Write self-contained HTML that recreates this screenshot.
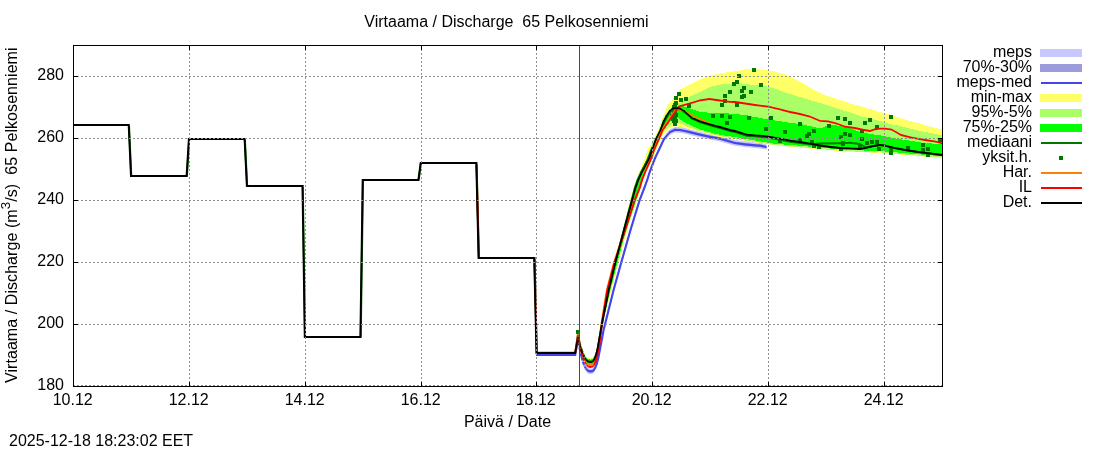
<!DOCTYPE html>
<html lang="fi">
<head>
<meta charset="utf-8">
<title>Virtaama / Discharge 65 Pelkosenniemi</title>
<style>
html,body{margin:0;padding:0;background:#fff;}
body{width:1100px;height:450px;overflow:hidden;position:relative;font-family:"Liberation Sans",sans-serif;}
</style>
</head>
<body>
<svg width="1100" height="450" viewBox="0 0 1100 450" style="position:absolute;left:0;top:0;display:block" font-family="'Liberation Sans', sans-serif" font-size="16" fill="#000">
<rect width="1100" height="450" fill="#fff"/>
<defs><clipPath id="pc"><rect x="73" y="45" width="870" height="342"/></clipPath></defs>
<g clip-path="url(#pc)" fill="none" stroke-linejoin="round" stroke-linecap="butt">
<path d="M578.0,336.0 L579.2,343.2 L580.5,349.8 L582.8,358.1 L584.3,362.7 L586.3,366.2 L588.2,367.9 L590.4,368.4 L592.4,368.1 L593.8,367.1 L595.1,364.9 L596.8,360.8 L598.4,354.7 L600.1,345.6 L603.6,327.0 L613.6,287.0 L621.4,259.0 L630.5,227.0 L639.5,197.4 L644.3,185.0 L647.2,177.0 L649.7,169.0 L652.4,162.0 L655.1,155.0 L658.9,147.0 L664.0,136.0 L670.0,129.0 L675.0,126.8 L680.0,127.0 L685.0,128.0 L690.0,129.2 L700.0,131.7 L710.0,133.8 L720.0,135.7 L735.0,140.0 L745.0,141.3 L755.0,142.3 L760.0,142.6 L766.5,144.0 L766.5,149.8 L760.0,148.4 L755.0,148.1 L745.0,147.1 L735.0,145.8 L720.0,141.5 L710.0,139.6 L700.0,137.5 L690.0,135.0 L685.0,133.8 L680.0,132.8 L675.0,132.6 L670.0,134.8 L664.0,141.8 L658.9,152.8 L655.1,160.8 L652.4,167.8 L649.7,174.8 L647.2,182.8 L644.3,190.8 L639.5,203.2 L630.5,232.8 L621.4,264.8 L613.6,292.8 L603.6,332.8 L600.1,351.4 L598.4,360.5 L596.8,366.6 L595.1,370.7 L593.8,372.9 L592.4,373.9 L590.4,374.2 L588.2,373.7 L586.3,372.0 L584.3,368.5 L582.8,363.9 L580.5,355.6 L579.2,349.0 L578.0,341.8Z" fill="#c8c8ff" stroke="none"/>
<path d="M578.0,337.7 L579.2,344.9 L580.5,351.5 L582.8,359.8 L584.3,364.4 L586.3,367.9 L588.2,369.6 L590.4,370.1 L592.4,369.8 L593.8,368.8 L595.1,366.6 L596.8,362.5 L598.4,356.4 L600.1,347.3 L603.6,328.7 L613.6,288.7 L621.4,260.7 L630.5,228.7 L639.5,199.1 L644.3,186.7 L647.2,178.7 L649.7,170.7 L652.4,163.7 L655.1,156.7 L658.9,148.7 L664.0,137.7 L670.0,130.7 L675.0,128.5 L680.0,128.7 L685.0,129.7 L690.0,130.9 L700.0,133.4 L710.0,135.5 L720.0,137.4 L735.0,141.7 L745.0,143.0 L755.0,144.0 L760.0,144.3 L766.5,145.7 L766.5,148.3 L760.0,146.9 L755.0,146.6 L745.0,145.6 L735.0,144.3 L720.0,140.0 L710.0,138.1 L700.0,136.0 L690.0,133.5 L685.0,132.3 L680.0,131.3 L675.0,131.1 L670.0,133.3 L664.0,140.3 L658.9,151.3 L655.1,159.3 L652.4,166.3 L649.7,173.3 L647.2,181.3 L644.3,189.3 L639.5,201.7 L630.5,231.3 L621.4,263.3 L613.6,291.3 L603.6,331.3 L600.1,349.9 L598.4,359.0 L596.8,365.1 L595.1,369.2 L593.8,371.4 L592.4,372.4 L590.4,372.7 L588.2,372.2 L586.3,370.5 L584.3,367.0 L582.8,362.4 L580.5,354.1 L579.2,347.5 L578.0,340.3Z" fill="#9c9cdc" stroke="none"/>
<path d="M536.00,353.90L575.20,353.90L575.20,356.10L536.00,356.10ZM574.10,355.00L576.90,339.00L579.10,339.00L576.30,355.00ZM576.90,339.00L578.10,346.24L580.30,346.24L579.10,339.00ZM578.10,346.24L579.40,352.83L581.60,352.83L580.30,346.24ZM579.40,352.83L581.70,361.13L583.90,361.13L581.60,352.83ZM581.70,361.13L583.20,365.74L585.40,365.74L583.90,361.13ZM583.20,365.74L585.20,369.16L587.40,369.16L585.40,365.74ZM586.30,368.06L588.20,369.77L588.20,371.97L586.30,370.26ZM588.20,369.77L590.40,370.30L590.40,372.50L588.20,371.97ZM590.40,370.30L592.39,370.00L592.39,372.20L590.40,372.50ZM592.39,370.00L593.82,369.00L593.82,371.20L592.39,372.20ZM592.72,370.10L594.05,367.90L596.25,367.90L594.92,370.10ZM594.05,367.90L595.70,363.80L597.90,363.80L596.25,367.90ZM595.70,363.80L597.25,357.70L599.45,357.70L597.90,363.80ZM597.25,357.70L599.02,348.60L601.22,348.60L599.45,357.70ZM599.02,348.60L602.50,330.00L604.70,330.00L601.22,348.60ZM602.50,330.00L612.50,290.00L614.70,290.00L604.70,330.00ZM612.50,290.00L620.30,262.00L622.50,262.00L614.70,290.00ZM620.30,262.00L629.40,230.00L631.60,230.00L622.50,262.00ZM629.40,230.00L638.40,200.40L640.60,200.40L631.60,230.00ZM638.40,200.40L643.20,188.00L645.40,188.00L640.60,200.40ZM643.20,188.00L646.10,180.00L648.30,180.00L645.40,188.00ZM646.10,180.00L648.60,172.00L650.80,172.00L648.30,180.00ZM648.60,172.00L651.30,165.00L653.50,165.00L650.80,172.00ZM651.30,165.00L654.00,158.00L656.20,158.00L653.50,165.00ZM654.00,158.00L657.80,150.00L660.00,150.00L656.20,158.00ZM657.80,150.00L662.90,139.00L665.10,139.00L660.00,150.00ZM662.90,139.00L668.90,132.00L671.10,132.00L665.10,139.00ZM670.00,130.90L675.00,128.70L675.00,130.90L670.00,133.10ZM675.00,128.70L680.00,128.90L680.00,131.10L675.00,130.90ZM680.00,128.90L685.00,129.90L685.00,132.10L680.00,131.10ZM685.00,129.90L690.00,131.10L690.00,133.30L685.00,132.10ZM690.00,131.10L700.00,133.60L700.00,135.80L690.00,133.30ZM700.00,133.60L710.00,135.70L710.00,137.90L700.00,135.80ZM710.00,135.70L720.00,137.60L720.00,139.80L710.00,137.90ZM720.00,137.60L735.00,141.90L735.00,144.10L720.00,139.80ZM735.00,141.90L745.00,143.20L745.00,145.40L735.00,144.10ZM745.00,143.20L755.00,144.20L755.00,146.40L745.00,145.40ZM755.00,144.20L760.00,144.50L760.00,146.70L755.00,146.40ZM760.00,144.50L766.50,145.90L766.50,148.10L760.00,146.70ZM574.27,354.06h1.87v1.87h-1.87ZM577.07,338.06h1.87v1.87h-1.87ZM578.27,345.31h1.87v1.87h-1.87ZM579.57,351.89h1.87v1.87h-1.87ZM581.87,360.19h1.87v1.87h-1.87ZM583.37,364.80h1.87v1.87h-1.87ZM585.37,368.23h1.87v1.87h-1.87ZM587.27,369.94h1.87v1.87h-1.87ZM589.47,370.46h1.87v1.87h-1.87ZM591.45,370.16h1.87v1.87h-1.87ZM592.89,369.16h1.87v1.87h-1.87ZM594.21,366.96h1.87v1.87h-1.87ZM595.87,362.86h1.87v1.87h-1.87ZM597.42,356.76h1.87v1.87h-1.87ZM599.18,347.66h1.87v1.87h-1.87ZM602.67,329.06h1.87v1.87h-1.87ZM612.67,289.06h1.87v1.87h-1.87ZM620.47,261.06h1.87v1.87h-1.87ZM629.57,229.06h1.87v1.87h-1.87ZM638.57,199.47h1.87v1.87h-1.87ZM643.37,187.06h1.87v1.87h-1.87ZM646.27,179.06h1.87v1.87h-1.87ZM648.77,171.06h1.87v1.87h-1.87ZM651.47,164.06h1.87v1.87h-1.87ZM654.17,157.06h1.87v1.87h-1.87ZM657.97,149.06h1.87v1.87h-1.87ZM663.07,138.06h1.87v1.87h-1.87ZM669.07,131.06h1.87v1.87h-1.87ZM674.07,128.87h1.87v1.87h-1.87ZM679.07,129.06h1.87v1.87h-1.87ZM684.07,130.06h1.87v1.87h-1.87ZM689.07,131.26h1.87v1.87h-1.87ZM699.07,133.76h1.87v1.87h-1.87ZM709.07,135.87h1.87v1.87h-1.87ZM719.07,137.76h1.87v1.87h-1.87ZM734.07,142.06h1.87v1.87h-1.87ZM744.07,143.37h1.87v1.87h-1.87ZM754.07,144.37h1.87v1.87h-1.87ZM759.07,144.66h1.87v1.87h-1.87Z" fill="#4444ee" stroke="none"/>
<path d="M536.0,351.0 L536.7,351.0 L537.4,351.0 L538.0,351.0 L538.7,351.0 L539.4,351.0 L540.1,351.0 L540.8,351.0 L541.4,351.0 L542.1,351.0 L542.8,351.0 L543.5,351.0 L544.1,351.0 L544.8,351.0 L545.5,351.0 L546.2,351.0 L546.9,351.0 L547.5,351.0 L548.2,351.0 L548.9,351.0 L549.6,351.0 L550.3,351.0 L550.9,351.0 L551.6,351.0 L552.3,351.0 L553.0,351.0 L553.6,351.0 L554.3,351.0 L555.0,351.0 L555.7,351.0 L556.4,351.0 L557.0,351.0 L557.7,351.0 L558.4,351.0 L559.1,351.0 L559.8,351.0 L560.4,351.0 L561.1,351.0 L561.8,351.0 L562.5,351.0 L563.1,351.0 L563.8,351.0 L564.5,351.0 L565.2,351.0 L565.9,351.0 L566.5,351.0 L567.2,351.0 L567.9,351.0 L568.6,351.0 L569.3,351.0 L569.9,351.0 L570.6,351.0 L571.3,351.0 L572.0,351.0 L572.6,351.0 L573.3,351.0 L574.0,351.0 L574.7,351.0 L575.4,350.0 L576.0,345.8 L576.7,341.5 L577.4,337.3 L578.1,333.8 L578.8,337.0 L579.4,339.9 L580.1,342.5 L580.8,344.8 L581.5,346.7 L582.1,348.6 L582.8,350.4 L583.5,352.0 L584.2,353.6 L584.9,354.6 L585.5,355.5 L586.2,356.4 L586.9,356.9 L587.6,357.4 L588.3,357.8 L588.9,357.9 L589.6,358.1 L590.3,358.2 L591.0,358.1 L591.6,358.0 L592.3,357.7 L593.0,357.2 L593.7,356.2 L594.4,354.9 L595.0,353.1 L595.7,351.1 L596.4,348.3 L597.1,345.2 L597.8,341.3 L598.4,337.2 L599.1,333.4 L599.8,329.8 L600.5,326.2 L601.1,322.6 L601.8,319.0 L602.5,315.6 L603.2,312.6 L603.9,309.5 L604.5,306.5 L605.2,303.4 L605.9,300.4 L606.6,297.3 L607.3,294.2 L607.9,291.2 L608.6,288.2 L609.3,285.2 L610.0,282.2 L610.6,279.2 L611.3,276.2 L612.0,273.3 L612.7,270.3 L613.4,267.3 L614.0,264.3 L614.7,261.4 L615.4,258.8 L616.1,256.2 L616.8,253.5 L617.4,250.9 L618.1,248.2 L618.8,245.6 L619.5,243.0 L620.2,240.3 L620.8,237.7 L621.5,235.0 L622.2,232.4 L622.9,229.7 L623.5,226.9 L624.2,224.1 L624.9,221.2 L625.6,218.4 L626.3,215.6 L626.9,212.8 L627.6,209.9 L628.3,207.1 L629.0,204.3 L629.7,201.4 L630.3,199.0 L631.0,196.7 L631.7,194.4 L632.4,192.1 L633.0,189.9 L633.7,187.6 L634.4,185.5 L635.1,183.4 L635.8,181.4 L636.4,179.4 L637.1,177.6 L637.8,175.7 L638.5,173.9 L639.2,172.1 L639.8,170.5 L640.5,168.9 L641.2,167.4 L641.9,165.8 L642.5,164.1 L643.2,162.3 L643.9,160.6 L644.6,158.8 L645.3,156.9 L645.9,154.8 L646.6,152.7 L647.3,150.6 L648.0,149.1 L648.7,147.9 L649.3,146.6 L650.0,145.4 L650.7,144.2 L651.4,142.9 L652.0,141.7 L652.7,140.4 L653.4,139.2 L654.1,137.8 L654.8,136.5 L655.4,135.1 L656.1,133.8 L656.8,132.4 L657.5,131.1 L658.2,129.6 L658.8,127.6 L659.5,125.7 L660.2,123.7 L660.9,121.8 L661.5,120.1 L662.2,118.4 L662.9,116.7 L663.6,115.0 L664.3,113.4 L664.9,111.8 L665.6,110.2 L666.3,108.6 L667.0,107.0 L667.7,105.4 L668.3,104.2 L669.0,103.4 L669.7,102.7 L670.4,101.9 L671.0,101.1 L671.7,100.3 L672.4,99.6 L673.1,98.8 L673.8,98.0 L674.4,97.2 L675.1,96.4 L675.8,95.5 L676.5,94.5 L677.2,93.5 L677.8,92.6 L678.5,91.6 L679.2,90.6 L679.9,89.7 L680.5,89.2 L681.2,88.9 L681.9,88.5 L682.6,88.2 L683.3,87.8 L683.9,87.5 L684.6,87.1 L685.3,86.8 L686.0,86.5 L686.7,86.1 L687.3,85.8 L688.0,85.4 L688.7,85.1 L689.4,84.7 L690.0,84.4 L690.7,84.0 L691.4,83.7 L692.1,83.4 L692.8,83.0 L693.4,82.7 L694.1,82.3 L694.8,82.0 L695.5,81.7 L696.2,81.3 L696.8,81.0 L697.5,80.6 L698.2,80.3 L698.9,80.0 L699.6,79.6 L700.2,79.3 L700.9,79.1 L701.6,78.8 L702.3,78.5 L702.9,78.3 L703.6,78.0 L704.3,77.8 L705.0,77.5 L705.7,77.3 L706.3,77.0 L707.0,76.7 L707.7,76.5 L708.4,76.2 L709.1,76.0 L709.7,75.7 L710.4,75.5 L711.1,75.4 L711.8,75.2 L712.4,75.1 L713.1,74.9 L713.8,74.8 L714.5,74.7 L715.2,74.5 L715.8,74.4 L716.5,74.2 L717.2,74.1 L717.9,73.9 L718.6,73.8 L719.2,73.7 L719.9,73.5 L720.6,73.4 L721.3,73.3 L721.9,73.2 L722.6,73.1 L723.3,72.9 L724.0,72.8 L724.7,72.7 L725.3,72.6 L726.0,72.5 L726.7,72.4 L727.4,72.2 L728.1,72.1 L728.7,72.0 L729.4,71.9 L730.1,71.8 L730.8,71.7 L731.4,71.6 L732.1,71.5 L732.8,71.5 L733.5,71.4 L734.2,71.3 L734.8,71.2 L735.5,71.1 L736.2,71.1 L736.9,71.0 L737.6,70.9 L738.2,70.8 L738.9,70.7 L739.6,70.6 L740.3,70.5 L740.9,70.3 L741.6,70.1 L742.3,70.0 L743.0,69.8 L743.7,69.6 L744.3,69.4 L745.0,69.2 L745.7,69.2 L746.4,69.2 L747.1,69.2 L747.7,69.1 L748.4,69.1 L749.1,69.1 L749.8,69.1 L750.4,69.1 L751.1,69.1 L751.8,69.1 L752.5,69.1 L753.2,69.0 L753.8,69.0 L754.5,69.0 L755.2,69.0 L755.9,69.1 L756.6,69.2 L757.2,69.2 L757.9,69.3 L758.6,69.4 L759.3,69.4 L759.9,69.5 L760.6,69.6 L761.3,69.6 L762.0,69.7 L762.7,69.8 L763.3,69.8 L764.0,69.9 L764.7,70.0 L765.4,70.1 L766.1,70.2 L766.7,70.3 L767.4,70.4 L768.1,70.5 L768.8,70.6 L769.4,70.7 L770.1,70.8 L770.8,70.9 L771.5,71.0 L772.2,71.1 L772.8,71.2 L773.5,71.3 L774.2,71.4 L774.9,71.5 L775.6,71.7 L776.2,71.9 L776.9,72.1 L777.6,72.3 L778.3,72.5 L778.9,72.7 L779.6,72.9 L780.3,73.1 L781.0,73.3 L781.7,73.5 L782.3,73.7 L783.0,73.9 L783.7,74.1 L784.4,74.3 L785.1,74.5 L785.7,74.8 L786.4,75.1 L787.1,75.4 L787.8,75.7 L788.5,76.1 L789.1,76.4 L789.8,76.7 L790.5,77.0 L791.2,77.3 L791.8,77.6 L792.5,77.9 L793.2,78.2 L793.9,78.5 L794.6,78.8 L795.2,79.1 L795.9,79.5 L796.6,79.9 L797.3,80.3 L798.0,80.6 L798.6,81.0 L799.3,81.4 L800.0,81.7 L800.7,82.1 L801.3,82.5 L802.0,82.9 L802.7,83.2 L803.4,83.6 L804.1,84.0 L804.7,84.4 L805.4,84.7 L806.1,85.2 L806.8,85.6 L807.5,86.0 L808.1,86.4 L808.8,86.8 L809.5,87.2 L810.2,87.6 L810.8,88.0 L811.5,88.4 L812.2,88.8 L812.9,89.2 L813.6,89.6 L814.2,90.0 L814.9,90.5 L815.6,90.8 L816.3,91.1 L817.0,91.4 L817.6,91.7 L818.3,92.0 L819.0,92.3 L819.7,92.6 L820.3,92.9 L821.0,93.2 L821.7,93.5 L822.4,93.8 L823.1,94.1 L823.7,94.4 L824.4,94.7 L825.1,95.0 L825.8,95.3 L826.5,95.5 L827.1,95.7 L827.8,96.0 L828.5,96.2 L829.2,96.5 L829.8,96.7 L830.5,96.9 L831.2,97.2 L831.9,97.4 L832.6,97.6 L833.2,97.9 L833.9,98.1 L834.6,98.4 L835.3,98.6 L836.0,98.8 L836.6,99.0 L837.3,99.2 L838.0,99.4 L838.7,99.6 L839.3,99.8 L840.0,100.0 L840.7,100.2 L841.4,100.4 L842.1,100.6 L842.7,100.8 L843.4,101.0 L844.1,101.2 L844.8,101.4 L845.5,101.7 L846.1,102.0 L846.8,102.2 L847.5,102.5 L848.2,102.8 L848.8,103.0 L849.5,103.3 L850.2,103.6 L850.9,103.7 L851.6,103.9 L852.2,104.1 L852.9,104.2 L853.6,104.4 L854.3,104.6 L855.0,104.7 L855.6,104.9 L856.3,105.1 L857.0,105.2 L857.7,105.4 L858.3,105.6 L859.0,105.8 L859.7,105.9 L860.4,106.1 L861.1,106.3 L861.7,106.5 L862.4,106.7 L863.1,106.9 L863.8,107.1 L864.5,107.3 L865.1,107.5 L865.8,107.7 L866.5,107.9 L867.2,108.2 L867.9,108.4 L868.5,108.6 L869.2,108.8 L869.9,109.0 L870.6,109.2 L871.2,109.4 L871.9,109.6 L872.6,109.8 L873.3,110.0 L874.0,110.2 L874.6,110.4 L875.3,110.6 L876.0,110.8 L876.7,111.0 L877.4,111.2 L878.0,111.4 L878.7,111.6 L879.4,111.8 L880.1,112.0 L880.7,112.2 L881.4,112.4 L882.1,112.5 L882.8,112.7 L883.5,112.9 L884.1,113.0 L884.8,113.2 L885.5,113.4 L886.2,113.5 L886.9,113.7 L887.5,113.9 L888.2,114.1 L888.9,114.2 L889.6,114.4 L890.2,114.6 L890.9,114.8 L891.6,115.1 L892.3,115.3 L893.0,115.5 L893.6,115.8 L894.3,116.0 L895.0,116.2 L895.7,116.5 L896.4,116.7 L897.0,117.0 L897.7,117.2 L898.4,117.4 L899.1,117.7 L899.7,117.9 L900.4,118.1 L901.1,118.3 L901.8,118.5 L902.5,118.7 L903.1,118.9 L903.8,119.1 L904.5,119.3 L905.2,119.6 L905.9,119.8 L906.5,120.0 L907.2,120.2 L907.9,120.4 L908.6,120.6 L909.2,120.8 L909.9,121.0 L910.6,121.2 L911.3,121.3 L912.0,121.5 L912.6,121.7 L913.3,121.8 L914.0,122.0 L914.7,122.2 L915.4,122.3 L916.0,122.5 L916.7,122.7 L917.4,122.8 L918.1,123.0 L918.7,123.2 L919.4,123.4 L920.1,123.5 L920.8,123.7 L921.5,123.9 L922.1,124.1 L922.8,124.3 L923.5,124.5 L924.2,124.8 L924.9,125.0 L925.5,125.2 L926.2,125.4 L926.9,125.6 L927.6,125.8 L928.2,126.0 L928.9,126.2 L929.6,126.4 L930.3,126.6 L931.0,126.7 L931.6,126.9 L932.3,127.1 L933.0,127.2 L933.7,127.4 L934.4,127.5 L935.0,127.7 L935.7,127.9 L936.4,128.0 L937.1,128.2 L937.7,128.4 L938.4,128.5 L939.1,128.7 L939.8,128.8 L940.5,129.0 L941.1,129.2 L941.8,129.3 L942.5,129.5 L942.5,158.1 L941.8,158.0 L941.1,158.0 L940.5,157.9 L939.8,157.9 L939.1,157.8 L938.4,157.8 L937.7,157.7 L937.1,157.6 L936.4,157.6 L935.7,157.5 L935.0,157.5 L934.4,157.4 L933.7,157.3 L933.0,157.3 L932.3,157.2 L931.6,157.2 L931.0,157.1 L930.3,157.1 L929.6,157.0 L928.9,156.9 L928.2,156.9 L927.6,156.8 L926.9,156.8 L926.2,156.7 L925.5,156.7 L924.9,156.6 L924.2,156.5 L923.5,156.5 L922.8,156.4 L922.1,156.4 L921.5,156.3 L920.8,156.2 L920.1,156.2 L919.4,156.1 L918.7,156.1 L918.1,156.0 L917.4,156.0 L916.7,155.9 L916.0,155.8 L915.4,155.8 L914.7,155.7 L914.0,155.7 L913.3,155.6 L912.6,155.6 L912.0,155.5 L911.3,155.4 L910.6,155.4 L909.9,155.3 L909.2,155.3 L908.6,155.2 L907.9,155.2 L907.2,155.1 L906.5,155.0 L905.9,155.0 L905.2,154.9 L904.5,154.9 L903.8,154.8 L903.1,154.8 L902.5,154.7 L901.8,154.6 L901.1,154.6 L900.4,154.5 L899.7,154.5 L899.1,154.4 L898.4,154.4 L897.7,154.3 L897.0,154.2 L896.4,154.2 L895.7,154.1 L895.0,154.1 L894.3,154.0 L893.6,154.0 L893.0,153.9 L892.3,153.8 L891.6,153.8 L890.9,153.7 L890.2,153.7 L889.6,153.6 L888.9,153.5 L888.2,153.5 L887.5,153.4 L886.9,153.4 L886.2,153.3 L885.5,153.3 L884.8,153.2 L884.1,153.1 L883.5,153.1 L882.8,153.0 L882.1,153.0 L881.4,152.9 L880.7,152.9 L880.1,152.8 L879.4,152.8 L878.7,152.8 L878.0,152.7 L877.4,152.7 L876.7,152.7 L876.0,152.7 L875.3,152.6 L874.6,152.6 L874.0,152.6 L873.3,152.6 L872.6,152.6 L871.9,152.5 L871.2,152.5 L870.6,152.5 L869.9,152.5 L869.2,152.4 L868.5,152.4 L867.9,152.4 L867.2,152.4 L866.5,152.3 L865.8,152.3 L865.1,152.3 L864.5,152.3 L863.8,152.3 L863.1,152.2 L862.4,152.2 L861.7,152.2 L861.1,152.2 L860.4,152.1 L859.7,152.1 L859.0,152.1 L858.3,152.1 L857.7,152.1 L857.0,152.0 L856.3,152.0 L855.6,152.0 L855.0,152.0 L854.3,151.9 L853.6,151.9 L852.9,151.9 L852.2,151.9 L851.6,151.9 L850.9,151.8 L850.2,151.8 L849.5,151.8 L848.8,151.7 L848.2,151.7 L847.5,151.6 L846.8,151.6 L846.1,151.5 L845.5,151.5 L844.8,151.4 L844.1,151.3 L843.4,151.3 L842.7,151.2 L842.1,151.2 L841.4,151.1 L840.7,151.1 L840.0,151.0 L839.3,151.0 L838.7,150.9 L838.0,150.9 L837.3,150.8 L836.6,150.8 L836.0,150.7 L835.3,150.7 L834.6,150.6 L833.9,150.6 L833.2,150.5 L832.6,150.5 L831.9,150.4 L831.2,150.4 L830.5,150.3 L829.8,150.3 L829.2,150.2 L828.5,150.2 L827.8,150.1 L827.1,150.0 L826.5,150.0 L825.8,149.9 L825.1,149.9 L824.4,149.8 L823.7,149.8 L823.1,149.7 L822.4,149.7 L821.7,149.6 L821.0,149.6 L820.3,149.5 L819.7,149.5 L819.0,149.4 L818.3,149.3 L817.6,149.3 L817.0,149.2 L816.3,149.1 L815.6,149.1 L814.9,149.0 L814.2,148.9 L813.6,148.9 L812.9,148.8 L812.2,148.7 L811.5,148.7 L810.8,148.6 L810.2,148.5 L809.5,148.4 L808.8,148.4 L808.1,148.3 L807.5,148.2 L806.8,148.2 L806.1,148.1 L805.4,148.0 L804.7,148.0 L804.1,147.9 L803.4,147.8 L802.7,147.8 L802.0,147.7 L801.3,147.6 L800.7,147.6 L800.0,147.5 L799.3,147.4 L798.6,147.4 L798.0,147.3 L797.3,147.3 L796.6,147.2 L795.9,147.1 L795.2,147.1 L794.6,147.0 L793.9,147.0 L793.2,146.9 L792.5,146.8 L791.8,146.8 L791.2,146.7 L790.5,146.7 L789.8,146.6 L789.1,146.5 L788.5,146.5 L787.8,146.4 L787.1,146.4 L786.4,146.3 L785.7,146.2 L785.1,146.2 L784.4,146.1 L783.7,146.1 L783.0,146.0 L782.3,145.9 L781.7,145.9 L781.0,145.8 L780.3,145.8 L779.6,145.7 L778.9,145.6 L778.3,145.6 L777.6,145.5 L776.9,145.5 L776.2,145.4 L775.6,145.3 L774.9,145.3 L774.2,145.2 L773.5,145.1 L772.8,145.0 L772.2,144.9 L771.5,144.8 L770.8,144.7 L770.1,144.6 L769.4,144.5 L768.8,144.4 L768.1,144.3 L767.4,144.2 L766.7,144.1 L766.1,144.0 L765.4,143.9 L764.7,143.8 L764.0,143.7 L763.3,143.6 L762.7,143.5 L762.0,143.4 L761.3,143.3 L760.6,143.2 L759.9,143.1 L759.3,143.0 L758.6,142.9 L757.9,142.8 L757.2,142.7 L756.6,142.6 L755.9,142.5 L755.2,142.4 L754.5,142.3 L753.8,142.2 L753.2,142.1 L752.5,142.0 L751.8,141.9 L751.1,141.8 L750.4,141.6 L749.8,141.5 L749.1,141.4 L748.4,141.3 L747.7,141.2 L747.1,141.1 L746.4,141.0 L745.7,140.9 L745.0,140.8 L744.3,140.7 L743.7,140.6 L743.0,140.5 L742.3,140.4 L741.6,140.3 L740.9,140.2 L740.3,140.1 L739.6,140.0 L738.9,139.9 L738.2,139.8 L737.6,139.7 L736.9,139.6 L736.2,139.5 L735.5,139.4 L734.8,139.3 L734.2,139.2 L733.5,139.1 L732.8,139.0 L732.1,138.9 L731.4,138.8 L730.8,138.7 L730.1,138.6 L729.4,138.5 L728.7,138.4 L728.1,138.3 L727.4,138.2 L726.7,138.1 L726.0,138.0 L725.3,137.9 L724.7,137.8 L724.0,137.7 L723.3,137.6 L722.6,137.5 L721.9,137.4 L721.3,137.3 L720.6,137.2 L719.9,137.1 L719.2,136.9 L718.6,136.7 L717.9,136.6 L717.2,136.4 L716.5,136.2 L715.8,136.1 L715.2,135.9 L714.5,135.7 L713.8,135.6 L713.1,135.4 L712.4,135.2 L711.8,135.0 L711.1,134.9 L710.4,134.7 L709.7,134.5 L709.1,134.3 L708.4,134.1 L707.7,134.0 L707.0,133.8 L706.3,133.6 L705.7,133.4 L705.0,133.2 L704.3,133.0 L703.6,132.8 L702.9,132.6 L702.3,132.4 L701.6,132.2 L700.9,132.1 L700.2,131.9 L699.6,131.7 L698.9,131.5 L698.2,131.3 L697.5,131.1 L696.8,130.9 L696.2,130.8 L695.5,130.6 L694.8,130.4 L694.1,130.2 L693.4,130.0 L692.8,129.8 L692.1,129.7 L691.4,129.5 L690.7,129.3 L690.0,129.1 L689.4,129.0 L688.7,128.8 L688.0,128.7 L687.3,128.5 L686.7,128.4 L686.0,128.2 L685.3,128.1 L684.6,127.9 L683.9,127.8 L683.3,127.6 L682.6,127.5 L681.9,127.3 L681.2,127.2 L680.5,127.0 L679.9,126.9 L679.2,126.8 L678.5,126.6 L677.8,126.5 L677.2,126.4 L676.5,126.3 L675.8,126.1 L675.1,126.0 L674.4,126.2 L673.8,126.5 L673.1,126.8 L672.4,127.0 L671.7,127.3 L671.0,127.6 L670.4,127.9 L669.7,128.2 L669.0,128.8 L668.3,129.3 L667.7,129.8 L667.0,130.4 L666.3,130.9 L665.6,131.4 L664.9,132.4 L664.3,133.6 L663.6,134.7 L662.9,135.8 L662.2,137.0 L661.5,138.1 L660.9,139.3 L660.2,140.9 L659.5,142.5 L658.8,144.1 L658.2,145.7 L657.5,147.3 L656.8,148.8 L656.1,150.5 L655.4,152.2 L654.8,153.8 L654.1,155.5 L653.4,157.2 L652.7,158.8 L652.0,160.4 L651.4,161.9 L650.7,163.4 L650.0,165.0 L649.3,166.4 L648.7,167.8 L648.0,169.2 L647.3,170.6 L646.6,172.0 L645.9,173.6 L645.3,175.2 L644.6,176.9 L643.9,178.5 L643.2,180.3 L642.5,182.9 L641.9,185.5 L641.2,188.0 L640.5,190.0 L639.8,191.9 L639.2,193.9 L638.5,195.9 L637.8,197.8 L637.1,199.8 L636.4,201.8 L635.8,203.9 L635.1,206.0 L634.4,208.0 L633.7,210.1 L633.0,212.2 L632.4,214.2 L631.7,216.3 L631.0,218.4 L630.3,220.4 L629.7,222.5 L629.0,224.6 L628.3,226.7 L627.6,228.7 L626.9,231.0 L626.3,233.5 L625.6,235.9 L624.9,238.4 L624.2,240.9 L623.5,243.4 L622.9,245.9 L622.2,248.4 L621.5,250.9 L620.8,253.4 L620.2,255.9 L619.5,258.4 L618.8,260.9 L618.1,263.4 L617.4,266.0 L616.8,268.6 L616.1,271.2 L615.4,273.8 L614.7,276.5 L614.0,279.1 L613.4,281.7 L612.7,284.3 L612.0,286.9 L611.3,289.5 L610.6,292.2 L610.0,294.9 L609.3,297.6 L608.6,300.3 L607.9,303.1 L607.3,305.8 L606.6,308.5 L605.9,311.2 L605.2,313.9 L604.5,316.6 L603.9,319.3 L603.2,322.8 L602.5,326.4 L601.8,330.1 L601.1,333.7 L600.5,337.3 L599.8,341.0 L599.1,344.7 L598.4,348.4 L597.8,351.9 L597.1,354.7 L596.4,357.5 L595.7,359.3 L595.0,361.1 L594.4,362.4 L593.7,363.6 L593.0,364.2 L592.3,364.7 L591.6,364.8 L591.0,364.9 L590.3,365.0 L589.6,364.8 L588.9,364.7 L588.3,364.6 L587.6,364.1 L586.9,363.6 L586.2,363.0 L585.5,362.0 L584.9,361.1 L584.2,360.0 L583.5,358.2 L582.8,356.5 L582.1,354.5 L581.5,352.4 L580.8,350.4 L580.1,347.9 L579.4,345.0 L578.8,341.8 L578.1,338.4 L577.4,341.4 L576.7,345.3 L576.0,349.2 L575.4,353.1 L574.7,354.0 L574.0,354.0 L573.3,354.0 L572.6,354.0 L572.0,354.0 L571.3,354.0 L570.6,354.0 L569.9,354.0 L569.3,354.0 L568.6,354.0 L567.9,354.0 L567.2,354.0 L566.5,354.0 L565.9,354.0 L565.2,354.0 L564.5,354.0 L563.8,354.0 L563.1,354.0 L562.5,354.0 L561.8,354.0 L561.1,354.0 L560.4,354.0 L559.8,354.0 L559.1,354.0 L558.4,354.0 L557.7,354.0 L557.0,354.0 L556.4,354.0 L555.7,354.0 L555.0,354.0 L554.3,354.0 L553.6,354.0 L553.0,354.0 L552.3,354.0 L551.6,354.0 L550.9,354.0 L550.3,354.0 L549.6,354.0 L548.9,354.0 L548.2,354.0 L547.5,354.0 L546.9,354.0 L546.2,354.0 L545.5,354.0 L544.8,354.0 L544.1,354.0 L543.5,354.0 L542.8,354.0 L542.1,354.0 L541.4,354.0 L540.8,354.0 L540.1,354.0 L539.4,354.0 L538.7,354.0 L538.0,354.0 L537.4,354.0 L536.7,354.0 L536.0,354.0Z" fill="#ffff66" stroke="none" shape-rendering="crispEdges"/>
<path d="M536.0,351.0 L536.7,351.0 L537.4,351.0 L538.0,351.0 L538.7,351.0 L539.4,351.0 L540.1,351.0 L540.8,351.0 L541.4,351.0 L542.1,351.0 L542.8,351.0 L543.5,351.0 L544.1,351.0 L544.8,351.0 L545.5,351.0 L546.2,351.0 L546.9,351.0 L547.5,351.0 L548.2,351.0 L548.9,351.0 L549.6,351.0 L550.3,351.0 L550.9,351.0 L551.6,351.0 L552.3,351.0 L553.0,351.0 L553.6,351.0 L554.3,351.0 L555.0,351.0 L555.7,351.0 L556.4,351.0 L557.0,351.0 L557.7,351.0 L558.4,351.0 L559.1,351.0 L559.8,351.0 L560.4,351.0 L561.1,351.0 L561.8,351.0 L562.5,351.0 L563.1,351.0 L563.8,351.0 L564.5,351.0 L565.2,351.0 L565.9,351.0 L566.5,351.0 L567.2,351.0 L567.9,351.0 L568.6,351.0 L569.3,351.0 L569.9,351.0 L570.6,351.0 L571.3,351.0 L572.0,351.0 L572.6,351.0 L573.3,351.0 L574.0,351.0 L574.7,351.0 L575.4,350.0 L576.0,345.8 L576.7,341.5 L577.4,337.3 L578.1,333.9 L578.8,337.1 L579.4,340.1 L580.1,342.8 L580.8,345.2 L581.5,347.1 L582.1,349.1 L582.8,351.0 L583.5,352.6 L584.2,354.3 L584.9,355.3 L585.5,356.2 L586.2,357.1 L586.9,357.7 L587.6,358.1 L588.3,358.6 L588.9,358.7 L589.6,358.9 L590.3,359.0 L591.0,358.9 L591.6,358.8 L592.3,358.5 L593.0,358.0 L593.7,357.1 L594.4,355.8 L595.0,354.0 L595.7,352.1 L596.4,349.4 L597.1,346.3 L597.8,342.6 L598.4,338.6 L599.1,334.8 L599.8,331.4 L600.5,327.9 L601.1,324.5 L601.8,321.1 L602.5,317.7 L603.2,314.6 L603.9,311.5 L604.5,308.4 L605.2,305.3 L605.9,302.3 L606.6,299.2 L607.3,296.1 L607.9,293.0 L608.6,289.9 L609.3,287.0 L610.0,284.1 L610.6,281.1 L611.3,278.2 L612.0,275.3 L612.7,272.3 L613.4,269.4 L614.0,266.4 L614.7,263.5 L615.4,260.7 L616.1,258.1 L616.8,255.5 L617.4,252.8 L618.1,250.2 L618.8,247.5 L619.5,244.9 L620.2,242.3 L620.8,239.6 L621.5,237.0 L622.2,234.3 L622.9,231.7 L623.5,229.0 L624.2,226.2 L624.9,223.3 L625.6,220.5 L626.3,217.7 L626.9,214.8 L627.6,212.0 L628.3,209.2 L629.0,206.4 L629.7,203.5 L630.3,200.7 L631.0,198.4 L631.7,196.2 L632.4,194.0 L633.0,191.8 L633.7,189.6 L634.4,187.4 L635.1,185.2 L635.8,183.0 L636.4,180.8 L637.1,179.0 L637.8,177.5 L638.5,175.9 L639.2,174.4 L639.8,172.8 L640.5,171.4 L641.2,170.1 L641.9,168.8 L642.5,167.4 L643.2,166.1 L643.9,164.8 L644.6,163.2 L645.3,161.7 L645.9,160.2 L646.6,158.6 L647.3,156.8 L648.0,154.7 L648.7,152.6 L649.3,150.5 L650.0,148.9 L650.7,147.4 L651.4,145.9 L652.0,144.4 L652.7,142.9 L653.4,141.4 L654.1,139.9 L654.8,138.5 L655.4,137.1 L656.1,135.8 L656.8,134.4 L657.5,133.1 L658.2,131.7 L658.8,130.3 L659.5,128.5 L660.2,126.6 L660.9,124.6 L661.5,122.7 L662.2,120.9 L662.9,119.5 L663.6,118.0 L664.3,116.6 L664.9,115.1 L665.6,114.1 L666.3,113.2 L667.0,112.2 L667.7,111.3 L668.3,110.3 L669.0,109.4 L669.7,108.4 L670.4,107.8 L671.0,107.3 L671.7,106.8 L672.4,106.4 L673.1,105.9 L673.8,105.5 L674.4,105.0 L675.1,104.6 L675.8,104.1 L676.5,103.8 L677.2,103.6 L677.8,103.4 L678.5,103.2 L679.2,102.9 L679.9,102.7 L680.5,102.5 L681.2,102.3 L681.9,102.0 L682.6,101.6 L683.3,101.1 L683.9,100.7 L684.6,100.2 L685.3,99.7 L686.0,99.3 L686.7,98.8 L687.3,98.3 L688.0,97.9 L688.7,97.4 L689.4,96.9 L690.0,96.5 L690.7,96.2 L691.4,95.9 L692.1,95.6 L692.8,95.3 L693.4,95.0 L694.1,94.6 L694.8,94.3 L695.5,94.0 L696.2,93.7 L696.8,93.4 L697.5,93.1 L698.2,92.8 L698.9,92.5 L699.6,92.2 L700.2,91.9 L700.9,91.5 L701.6,91.2 L702.3,90.9 L702.9,90.5 L703.6,90.2 L704.3,89.8 L705.0,89.5 L705.7,89.2 L706.3,88.8 L707.0,88.5 L707.7,88.2 L708.4,87.8 L709.1,87.5 L709.7,87.1 L710.4,86.9 L711.1,86.7 L711.8,86.6 L712.4,86.4 L713.1,86.2 L713.8,86.0 L714.5,85.9 L715.2,85.7 L715.8,85.5 L716.5,85.4 L717.2,85.2 L717.9,85.0 L718.6,84.9 L719.2,84.7 L719.9,84.5 L720.6,84.5 L721.3,84.4 L721.9,84.4 L722.6,84.3 L723.3,84.3 L724.0,84.2 L724.7,84.2 L725.3,84.1 L726.0,84.0 L726.7,84.0 L727.4,83.9 L728.1,83.9 L728.7,83.8 L729.4,83.8 L730.1,83.7 L730.8,83.7 L731.4,83.6 L732.1,83.6 L732.8,83.5 L733.5,83.5 L734.2,83.4 L734.8,83.4 L735.5,83.3 L736.2,83.3 L736.9,83.2 L737.6,83.2 L738.2,83.1 L738.9,83.1 L739.6,83.0 L740.3,83.1 L740.9,83.2 L741.6,83.3 L742.3,83.5 L743.0,83.6 L743.7,83.7 L744.3,83.9 L745.0,84.0 L745.7,84.1 L746.4,84.1 L747.1,84.2 L747.7,84.3 L748.4,84.3 L749.1,84.4 L749.8,84.5 L750.4,84.5 L751.1,84.6 L751.8,84.7 L752.5,84.7 L753.2,84.8 L753.8,84.9 L754.5,85.0 L755.2,85.0 L755.9,85.1 L756.6,85.2 L757.2,85.2 L757.9,85.3 L758.6,85.4 L759.3,85.4 L759.9,85.5 L760.6,85.6 L761.3,85.6 L762.0,85.7 L762.7,85.8 L763.3,85.8 L764.0,85.9 L764.7,86.0 L765.4,86.1 L766.1,86.3 L766.7,86.4 L767.4,86.6 L768.1,86.8 L768.8,86.9 L769.4,87.1 L770.1,87.3 L770.8,87.5 L771.5,87.6 L772.2,87.8 L772.8,88.0 L773.5,88.1 L774.2,88.3 L774.9,88.5 L775.6,88.7 L776.2,89.0 L776.9,89.3 L777.6,89.5 L778.3,89.8 L778.9,90.1 L779.6,90.4 L780.3,90.6 L781.0,90.9 L781.7,91.2 L782.3,91.4 L783.0,91.7 L783.7,92.0 L784.4,92.3 L785.1,92.5 L785.7,92.7 L786.4,92.9 L787.1,93.1 L787.8,93.3 L788.5,93.5 L789.1,93.7 L789.8,93.9 L790.5,94.1 L791.2,94.3 L791.8,94.6 L792.5,94.8 L793.2,95.0 L793.9,95.2 L794.6,95.4 L795.2,95.6 L795.9,95.8 L796.6,96.0 L797.3,96.2 L798.0,96.4 L798.6,96.6 L799.3,96.8 L800.0,97.0 L800.7,97.2 L801.3,97.4 L802.0,97.6 L802.7,97.8 L803.4,98.0 L804.1,98.2 L804.7,98.4 L805.4,98.6 L806.1,98.8 L806.8,99.0 L807.5,99.2 L808.1,99.4 L808.8,99.6 L809.5,99.8 L810.2,100.1 L810.8,100.3 L811.5,100.5 L812.2,100.7 L812.9,100.9 L813.6,101.1 L814.2,101.3 L814.9,101.5 L815.6,101.7 L816.3,101.9 L817.0,102.1 L817.6,102.3 L818.3,102.5 L819.0,102.7 L819.7,102.9 L820.3,103.1 L821.0,103.3 L821.7,103.5 L822.4,103.7 L823.1,103.9 L823.7,104.1 L824.4,104.3 L825.1,104.5 L825.8,104.8 L826.5,105.0 L827.1,105.2 L827.8,105.5 L828.5,105.7 L829.2,106.0 L829.8,106.2 L830.5,106.4 L831.2,106.7 L831.9,106.9 L832.6,107.1 L833.2,107.4 L833.9,107.6 L834.6,107.9 L835.3,108.1 L836.0,108.3 L836.6,108.5 L837.3,108.7 L838.0,108.9 L838.7,109.1 L839.3,109.3 L840.0,109.5 L840.7,109.7 L841.4,109.9 L842.1,110.1 L842.7,110.3 L843.4,110.5 L844.1,110.7 L844.8,110.9 L845.5,111.1 L846.1,111.3 L846.8,111.5 L847.5,111.7 L848.2,112.0 L848.8,112.2 L849.5,112.4 L850.2,112.6 L850.9,112.8 L851.6,113.0 L852.2,113.3 L852.9,113.5 L853.6,113.8 L854.3,114.0 L855.0,114.2 L855.6,114.5 L856.3,114.7 L857.0,114.9 L857.7,115.2 L858.3,115.4 L859.0,115.7 L859.7,115.9 L860.4,116.1 L861.1,116.3 L861.7,116.4 L862.4,116.6 L863.1,116.8 L863.8,116.9 L864.5,117.1 L865.1,117.3 L865.8,117.5 L866.5,117.6 L867.2,117.8 L867.9,118.0 L868.5,118.1 L869.2,118.3 L869.9,118.5 L870.6,118.6 L871.2,118.8 L871.9,119.0 L872.6,119.2 L873.3,119.3 L874.0,119.5 L874.6,119.7 L875.3,119.8 L876.0,120.0 L876.7,120.2 L877.4,120.3 L878.0,120.5 L878.7,120.7 L879.4,120.8 L880.1,121.0 L880.7,121.2 L881.4,121.4 L882.1,121.6 L882.8,121.8 L883.5,122.0 L884.1,122.2 L884.8,122.4 L885.5,122.6 L886.2,122.9 L886.9,123.1 L887.5,123.3 L888.2,123.5 L888.9,123.7 L889.6,123.9 L890.2,124.0 L890.9,124.2 L891.6,124.3 L892.3,124.5 L893.0,124.6 L893.6,124.7 L894.3,124.9 L895.0,125.0 L895.7,125.1 L896.4,125.3 L897.0,125.4 L897.7,125.5 L898.4,125.7 L899.1,125.8 L899.7,125.9 L900.4,126.1 L901.1,126.3 L901.8,126.4 L902.5,126.6 L903.1,126.8 L903.8,127.0 L904.5,127.1 L905.2,127.3 L905.9,127.5 L906.5,127.6 L907.2,127.8 L907.9,128.0 L908.6,128.1 L909.2,128.3 L909.9,128.5 L910.6,128.7 L911.3,128.8 L912.0,129.0 L912.6,129.2 L913.3,129.3 L914.0,129.5 L914.7,129.7 L915.4,129.8 L916.0,130.0 L916.7,130.2 L917.4,130.3 L918.1,130.5 L918.7,130.7 L919.4,130.9 L920.1,131.0 L920.8,131.2 L921.5,131.3 L922.1,131.4 L922.8,131.6 L923.5,131.7 L924.2,131.8 L924.9,132.0 L925.5,132.1 L926.2,132.2 L926.9,132.4 L927.6,132.5 L928.2,132.6 L928.9,132.8 L929.6,132.9 L930.3,133.1 L931.0,133.2 L931.6,133.3 L932.3,133.4 L933.0,133.6 L933.7,133.7 L934.4,133.8 L935.0,133.9 L935.7,134.1 L936.4,134.2 L937.1,134.3 L937.7,134.4 L938.4,134.6 L939.1,134.7 L939.8,134.8 L940.5,134.9 L941.1,135.1 L941.8,135.2 L942.5,135.3 L942.5,157.6 L941.8,157.5 L941.1,157.5 L940.5,157.4 L939.8,157.4 L939.1,157.3 L938.4,157.3 L937.7,157.2 L937.1,157.1 L936.4,157.1 L935.7,157.0 L935.0,157.0 L934.4,156.9 L933.7,156.8 L933.0,156.8 L932.3,156.7 L931.6,156.7 L931.0,156.6 L930.3,156.6 L929.6,156.5 L928.9,156.4 L928.2,156.4 L927.6,156.3 L926.9,156.3 L926.2,156.2 L925.5,156.2 L924.9,156.1 L924.2,156.0 L923.5,156.0 L922.8,155.9 L922.1,155.9 L921.5,155.8 L920.8,155.7 L920.1,155.7 L919.4,155.6 L918.7,155.6 L918.1,155.5 L917.4,155.5 L916.7,155.4 L916.0,155.3 L915.4,155.3 L914.7,155.2 L914.0,155.2 L913.3,155.1 L912.6,155.1 L912.0,155.0 L911.3,154.9 L910.6,154.9 L909.9,154.8 L909.2,154.8 L908.6,154.7 L907.9,154.7 L907.2,154.6 L906.5,154.5 L905.9,154.5 L905.2,154.4 L904.5,154.4 L903.8,154.3 L903.1,154.3 L902.5,154.2 L901.8,154.1 L901.1,154.1 L900.4,154.0 L899.7,154.0 L899.1,153.9 L898.4,153.9 L897.7,153.8 L897.0,153.7 L896.4,153.7 L895.7,153.6 L895.0,153.6 L894.3,153.5 L893.6,153.5 L893.0,153.4 L892.3,153.3 L891.6,153.3 L890.9,153.2 L890.2,153.2 L889.6,153.1 L888.9,153.0 L888.2,153.0 L887.5,152.9 L886.9,152.9 L886.2,152.8 L885.5,152.8 L884.8,152.7 L884.1,152.6 L883.5,152.6 L882.8,152.5 L882.1,152.5 L881.4,152.4 L880.7,152.4 L880.1,152.3 L879.4,152.3 L878.7,152.3 L878.0,152.2 L877.4,152.2 L876.7,152.2 L876.0,152.2 L875.3,152.1 L874.6,152.1 L874.0,152.1 L873.3,152.1 L872.6,152.1 L871.9,152.0 L871.2,152.0 L870.6,152.0 L869.9,152.0 L869.2,151.9 L868.5,151.9 L867.9,151.9 L867.2,151.9 L866.5,151.8 L865.8,151.8 L865.1,151.8 L864.5,151.8 L863.8,151.8 L863.1,151.7 L862.4,151.7 L861.7,151.7 L861.1,151.7 L860.4,151.6 L859.7,151.6 L859.0,151.6 L858.3,151.6 L857.7,151.6 L857.0,151.5 L856.3,151.5 L855.6,151.5 L855.0,151.5 L854.3,151.4 L853.6,151.4 L852.9,151.4 L852.2,151.4 L851.6,151.4 L850.9,151.3 L850.2,151.3 L849.5,151.3 L848.8,151.2 L848.2,151.2 L847.5,151.1 L846.8,151.1 L846.1,151.0 L845.5,151.0 L844.8,150.9 L844.1,150.8 L843.4,150.8 L842.7,150.7 L842.1,150.7 L841.4,150.6 L840.7,150.6 L840.0,150.5 L839.3,150.5 L838.7,150.4 L838.0,150.4 L837.3,150.3 L836.6,150.3 L836.0,150.2 L835.3,150.2 L834.6,150.1 L833.9,150.1 L833.2,150.0 L832.6,150.0 L831.9,149.9 L831.2,149.9 L830.5,149.8 L829.8,149.8 L829.2,149.7 L828.5,149.7 L827.8,149.6 L827.1,149.5 L826.5,149.5 L825.8,149.4 L825.1,149.4 L824.4,149.3 L823.7,149.3 L823.1,149.2 L822.4,149.2 L821.7,149.1 L821.0,149.1 L820.3,149.0 L819.7,149.0 L819.0,148.9 L818.3,148.8 L817.6,148.8 L817.0,148.7 L816.3,148.6 L815.6,148.6 L814.9,148.5 L814.2,148.4 L813.6,148.4 L812.9,148.3 L812.2,148.2 L811.5,148.2 L810.8,148.1 L810.2,148.0 L809.5,147.9 L808.8,147.9 L808.1,147.8 L807.5,147.7 L806.8,147.7 L806.1,147.6 L805.4,147.5 L804.7,147.5 L804.1,147.4 L803.4,147.3 L802.7,147.3 L802.0,147.2 L801.3,147.1 L800.7,147.1 L800.0,147.0 L799.3,146.9 L798.6,146.9 L798.0,146.8 L797.3,146.8 L796.6,146.7 L795.9,146.7 L795.2,146.6 L794.6,146.5 L793.9,146.5 L793.2,146.4 L792.5,146.4 L791.8,146.3 L791.2,146.3 L790.5,146.2 L789.8,146.1 L789.1,146.1 L788.5,146.0 L787.8,146.0 L787.1,145.9 L786.4,145.9 L785.7,145.8 L785.1,145.7 L784.4,145.7 L783.7,145.6 L783.0,145.6 L782.3,145.5 L781.7,145.5 L781.0,145.4 L780.3,145.3 L779.6,145.3 L778.9,145.2 L778.3,145.2 L777.6,145.1 L776.9,145.1 L776.2,145.0 L775.6,144.9 L774.9,144.9 L774.2,144.8 L773.5,144.7 L772.8,144.6 L772.2,144.5 L771.5,144.4 L770.8,144.3 L770.1,144.2 L769.4,144.1 L768.8,144.0 L768.1,143.9 L767.4,143.8 L766.7,143.7 L766.1,143.6 L765.4,143.5 L764.7,143.4 L764.0,143.3 L763.3,143.2 L762.7,143.1 L762.0,143.0 L761.3,142.9 L760.6,142.8 L759.9,142.7 L759.3,142.6 L758.6,142.5 L757.9,142.4 L757.2,142.3 L756.6,142.2 L755.9,142.1 L755.2,142.0 L754.5,141.9 L753.8,141.8 L753.2,141.7 L752.5,141.6 L751.8,141.5 L751.1,141.4 L750.4,141.2 L749.8,141.1 L749.1,141.0 L748.4,140.9 L747.7,140.8 L747.1,140.7 L746.4,140.6 L745.7,140.5 L745.0,140.4 L744.3,140.3 L743.7,140.2 L743.0,140.1 L742.3,140.0 L741.6,139.9 L740.9,139.8 L740.3,139.7 L739.6,139.6 L738.9,139.5 L738.2,139.4 L737.6,139.3 L736.9,139.2 L736.2,139.1 L735.5,139.0 L734.8,138.9 L734.2,138.7 L733.5,138.6 L732.8,138.5 L732.1,138.3 L731.4,138.2 L730.8,138.1 L730.1,138.0 L729.4,137.8 L728.7,137.7 L728.1,137.6 L727.4,137.4 L726.7,137.3 L726.0,137.2 L725.3,137.0 L724.7,136.9 L724.0,136.8 L723.3,136.6 L722.6,136.5 L721.9,136.4 L721.3,136.2 L720.6,136.1 L719.9,136.0 L719.2,135.8 L718.6,135.6 L717.9,135.5 L717.2,135.3 L716.5,135.1 L715.8,135.0 L715.2,134.8 L714.5,134.6 L713.8,134.5 L713.1,134.3 L712.4,134.1 L711.8,133.9 L711.1,133.8 L710.4,133.6 L709.7,133.4 L709.1,133.2 L708.4,133.0 L707.7,132.9 L707.0,132.7 L706.3,132.5 L705.7,132.3 L705.0,132.1 L704.3,131.9 L703.6,131.7 L702.9,131.5 L702.3,131.3 L701.6,131.1 L700.9,131.0 L700.2,130.8 L699.6,130.6 L698.9,130.4 L698.2,130.1 L697.5,129.9 L696.8,129.7 L696.2,129.5 L695.5,129.3 L694.8,129.1 L694.1,128.9 L693.4,128.7 L692.8,128.5 L692.1,128.2 L691.4,128.0 L690.7,127.8 L690.0,127.6 L689.4,127.3 L688.7,127.0 L688.0,126.8 L687.3,126.5 L686.7,126.2 L686.0,125.9 L685.3,125.6 L684.6,125.3 L683.9,125.0 L683.3,124.8 L682.6,124.5 L681.9,124.2 L681.2,123.9 L680.5,123.7 L679.9,123.6 L679.2,123.4 L678.5,123.3 L677.8,123.2 L677.2,123.2 L676.5,123.2 L675.8,123.2 L675.1,123.3 L674.4,123.3 L673.8,123.3 L673.1,123.3 L672.4,123.7 L671.7,124.2 L671.0,124.7 L670.4,125.2 L669.7,125.7 L669.0,126.1 L668.3,126.7 L667.7,127.4 L667.0,128.2 L666.3,128.9 L665.6,129.7 L664.9,130.5 L664.3,131.2 L663.6,132.3 L662.9,133.6 L662.2,134.8 L661.5,136.1 L660.9,137.4 L660.2,138.6 L659.5,140.2 L658.8,141.9 L658.2,143.6 L657.5,145.3 L656.8,147.0 L656.1,148.7 L655.4,150.4 L654.8,152.2 L654.1,154.0 L653.4,155.9 L652.7,157.7 L652.0,159.3 L651.4,160.9 L650.7,162.5 L650.0,164.0 L649.3,165.6 L648.7,167.0 L648.0,168.4 L647.3,169.9 L646.6,171.3 L645.9,172.9 L645.3,174.5 L644.6,176.2 L643.9,177.8 L643.2,179.5 L642.5,181.7 L641.9,184.3 L641.2,186.9 L640.5,189.1 L639.8,191.1 L639.2,193.0 L638.5,195.0 L637.8,197.0 L637.1,198.9 L636.4,200.9 L635.8,202.9 L635.1,205.0 L634.4,207.0 L633.7,209.1 L633.0,211.1 L632.4,213.2 L631.7,215.2 L631.0,217.3 L630.3,219.3 L629.7,221.4 L629.0,223.4 L628.3,225.5 L627.6,227.5 L626.9,229.6 L626.3,232.0 L625.6,234.5 L624.9,237.1 L624.2,239.6 L623.5,242.1 L622.9,244.6 L622.2,247.1 L621.5,249.6 L620.8,252.2 L620.2,254.7 L619.5,257.2 L618.8,259.7 L618.1,262.2 L617.4,264.9 L616.8,267.5 L616.1,270.1 L615.4,272.7 L614.7,275.3 L614.0,277.9 L613.4,280.5 L612.7,283.1 L612.0,285.7 L611.3,288.4 L610.6,291.0 L610.0,293.8 L609.3,296.5 L608.6,299.3 L607.9,302.0 L607.3,304.8 L606.6,307.5 L605.9,310.3 L605.2,313.0 L604.5,315.8 L603.9,318.5 L603.2,321.7 L602.5,325.4 L601.8,329.1 L601.1,332.9 L600.5,336.6 L599.8,340.3 L599.1,344.0 L598.4,347.7 L597.8,351.4 L597.1,354.3 L596.4,357.1 L595.7,359.0 L595.0,360.8 L594.4,362.1 L593.7,363.3 L593.0,363.9 L592.3,364.4 L591.6,364.6 L591.0,364.7 L590.3,364.8 L589.6,364.6 L588.9,364.5 L588.3,364.4 L587.6,363.9 L586.9,363.4 L586.2,362.8 L585.5,361.9 L584.9,360.9 L584.2,359.8 L583.5,358.1 L582.8,356.4 L582.1,354.4 L581.5,352.3 L580.8,350.3 L580.1,347.8 L579.4,345.0 L578.8,341.8 L578.1,338.4 L577.4,341.4 L576.7,345.3 L576.0,349.2 L575.4,353.1 L574.7,354.0 L574.0,354.0 L573.3,354.0 L572.6,354.0 L572.0,354.0 L571.3,354.0 L570.6,354.0 L569.9,354.0 L569.3,354.0 L568.6,354.0 L567.9,354.0 L567.2,354.0 L566.5,354.0 L565.9,354.0 L565.2,354.0 L564.5,354.0 L563.8,354.0 L563.1,354.0 L562.5,354.0 L561.8,354.0 L561.1,354.0 L560.4,354.0 L559.8,354.0 L559.1,354.0 L558.4,354.0 L557.7,354.0 L557.0,354.0 L556.4,354.0 L555.7,354.0 L555.0,354.0 L554.3,354.0 L553.6,354.0 L553.0,354.0 L552.3,354.0 L551.6,354.0 L550.9,354.0 L550.3,354.0 L549.6,354.0 L548.9,354.0 L548.2,354.0 L547.5,354.0 L546.9,354.0 L546.2,354.0 L545.5,354.0 L544.8,354.0 L544.1,354.0 L543.5,354.0 L542.8,354.0 L542.1,354.0 L541.4,354.0 L540.8,354.0 L540.1,354.0 L539.4,354.0 L538.7,354.0 L538.0,354.0 L537.4,354.0 L536.7,354.0 L536.0,354.0Z" fill="#aaff66" stroke="none" shape-rendering="crispEdges"/>
<path d="M536.0,352.0 L536.7,352.0 L537.4,352.0 L538.0,352.0 L538.7,352.0 L539.4,352.0 L540.1,352.0 L540.8,352.0 L541.4,352.0 L542.1,352.0 L542.8,352.0 L543.5,352.0 L544.1,352.0 L544.8,352.0 L545.5,352.0 L546.2,352.0 L546.9,352.0 L547.5,352.0 L548.2,352.0 L548.9,352.0 L549.6,352.0 L550.3,352.0 L550.9,352.0 L551.6,352.0 L552.3,352.0 L553.0,352.0 L553.6,352.0 L554.3,352.0 L555.0,352.0 L555.7,352.0 L556.4,352.0 L557.0,352.0 L557.7,352.0 L558.4,352.0 L559.1,352.0 L559.8,352.0 L560.4,352.0 L561.1,352.0 L561.8,352.0 L562.5,352.0 L563.1,352.0 L563.8,352.0 L564.5,352.0 L565.2,352.0 L565.9,352.0 L566.5,352.0 L567.2,352.0 L567.9,352.0 L568.6,352.0 L569.3,352.0 L569.9,352.0 L570.6,352.0 L571.3,352.0 L572.0,352.0 L572.6,352.0 L573.3,352.0 L574.0,352.0 L574.7,352.0 L575.4,351.0 L576.0,346.6 L576.7,342.2 L577.4,337.9 L578.1,334.4 L578.8,337.6 L579.4,340.7 L580.1,343.4 L580.8,345.8 L581.5,347.7 L582.1,349.6 L582.8,351.5 L583.5,353.2 L584.2,354.8 L584.9,355.9 L585.5,356.8 L586.2,357.7 L586.9,358.3 L587.6,358.7 L588.3,359.2 L588.9,359.3 L589.6,359.5 L590.3,359.6 L591.0,359.5 L591.6,359.4 L592.3,359.2 L593.0,358.6 L593.7,357.8 L594.4,356.6 L595.0,354.9 L595.7,353.0 L596.4,350.6 L597.1,347.6 L597.8,344.1 L598.4,340.2 L599.1,336.3 L599.8,333.0 L600.5,329.6 L601.1,326.2 L601.8,322.8 L602.5,319.5 L603.2,316.3 L603.9,313.2 L604.5,310.2 L605.2,307.1 L605.9,304.0 L606.6,301.0 L607.3,297.9 L607.9,294.8 L608.6,291.7 L609.3,288.8 L610.0,285.9 L610.6,283.0 L611.3,280.1 L612.0,277.2 L612.7,274.3 L613.4,271.4 L614.0,268.5 L614.7,265.6 L615.4,262.7 L616.1,260.0 L616.8,257.4 L617.4,254.8 L618.1,252.1 L618.8,249.5 L619.5,246.8 L620.2,244.2 L620.8,241.6 L621.5,238.9 L622.2,236.3 L622.9,233.6 L623.5,231.0 L624.2,228.2 L624.9,225.4 L625.6,222.6 L626.3,219.8 L626.9,216.9 L627.6,214.1 L628.3,211.3 L629.0,208.4 L629.7,205.6 L630.3,202.8 L631.0,200.0 L631.7,197.8 L632.4,195.5 L633.0,193.2 L633.7,190.9 L634.4,188.7 L635.1,186.5 L635.8,184.3 L636.4,182.1 L637.1,180.0 L637.8,178.5 L638.5,176.9 L639.2,175.4 L639.8,173.9 L640.5,172.4 L641.2,171.0 L641.9,169.7 L642.5,168.3 L643.2,167.0 L643.9,165.6 L644.6,164.1 L645.3,162.6 L645.9,161.1 L646.6,159.5 L647.3,158.0 L648.0,156.3 L648.7,154.5 L649.3,152.8 L650.0,151.0 L650.7,149.3 L651.4,147.7 L652.0,146.1 L652.7,144.4 L653.4,142.8 L654.1,141.2 L654.8,139.6 L655.4,138.1 L656.1,136.8 L656.8,135.4 L657.5,134.1 L658.2,132.7 L658.8,131.3 L659.5,130.0 L660.2,128.1 L660.9,126.2 L661.5,124.3 L662.2,122.4 L662.9,120.9 L663.6,119.7 L664.3,118.5 L664.9,117.3 L665.6,116.2 L666.3,115.2 L667.0,114.4 L667.7,113.7 L668.3,113.0 L669.0,112.2 L669.7,111.5 L670.4,110.8 L671.0,110.0 L671.7,109.3 L672.4,108.8 L673.1,108.3 L673.8,107.9 L674.4,107.5 L675.1,107.1 L675.8,106.7 L676.5,106.3 L677.2,106.0 L677.8,106.0 L678.5,106.0 L679.2,106.0 L679.9,106.0 L680.5,106.0 L681.2,106.0 L681.9,106.0 L682.6,106.2 L683.3,106.4 L683.9,106.6 L684.6,106.8 L685.3,107.0 L686.0,107.2 L686.7,107.5 L687.3,107.7 L688.0,107.9 L688.7,108.1 L689.4,108.3 L690.0,108.5 L690.7,108.8 L691.4,109.0 L692.1,109.2 L692.8,109.5 L693.4,109.7 L694.1,109.9 L694.8,110.2 L695.5,110.4 L696.2,110.7 L696.8,110.9 L697.5,111.1 L698.2,111.4 L698.9,111.6 L699.6,111.8 L700.2,112.0 L700.9,112.1 L701.6,112.1 L702.3,112.2 L702.9,112.2 L703.6,112.2 L704.3,112.3 L705.0,112.3 L705.7,112.4 L706.3,112.4 L707.0,112.5 L707.7,112.5 L708.4,112.6 L709.1,112.6 L709.7,112.6 L710.4,112.7 L711.1,112.7 L711.8,112.8 L712.4,112.8 L713.1,112.9 L713.8,112.9 L714.5,113.0 L715.2,113.0 L715.8,113.0 L716.5,113.1 L717.2,113.1 L717.9,113.1 L718.6,113.1 L719.2,113.1 L719.9,113.2 L720.6,113.2 L721.3,113.2 L721.9,113.2 L722.6,113.3 L723.3,113.3 L724.0,113.3 L724.7,113.3 L725.3,113.3 L726.0,113.4 L726.7,113.4 L727.4,113.4 L728.1,113.4 L728.7,113.5 L729.4,113.5 L730.1,113.5 L730.8,113.6 L731.4,113.6 L732.1,113.7 L732.8,113.8 L733.5,113.8 L734.2,113.9 L734.8,114.0 L735.5,114.1 L736.2,114.1 L736.9,114.2 L737.6,114.3 L738.2,114.3 L738.9,114.4 L739.6,114.5 L740.3,114.5 L740.9,114.6 L741.6,114.7 L742.3,114.7 L743.0,114.8 L743.7,114.9 L744.3,114.9 L745.0,115.0 L745.7,115.1 L746.4,115.3 L747.1,115.4 L747.7,115.5 L748.4,115.7 L749.1,115.8 L749.8,116.0 L750.4,116.1 L751.1,116.2 L751.8,116.4 L752.5,116.5 L753.2,116.6 L753.8,116.8 L754.5,116.9 L755.2,117.0 L755.9,117.2 L756.6,117.3 L757.2,117.4 L757.9,117.6 L758.6,117.7 L759.3,117.9 L759.9,118.0 L760.6,118.1 L761.3,118.2 L762.0,118.3 L762.7,118.4 L763.3,118.5 L764.0,118.7 L764.7,118.8 L765.4,118.9 L766.1,119.0 L766.7,119.1 L767.4,119.2 L768.1,119.3 L768.8,119.4 L769.4,119.5 L770.1,119.7 L770.8,119.8 L771.5,119.9 L772.2,120.0 L772.8,120.1 L773.5,120.2 L774.2,120.3 L774.9,120.4 L775.6,120.6 L776.2,120.7 L776.9,120.8 L777.6,120.9 L778.3,121.0 L778.9,121.1 L779.6,121.2 L780.3,121.3 L781.0,121.4 L781.7,121.5 L782.3,121.6 L783.0,121.7 L783.7,121.8 L784.4,121.9 L785.1,122.0 L785.7,122.1 L786.4,122.2 L787.1,122.3 L787.8,122.4 L788.5,122.5 L789.1,122.6 L789.8,122.7 L790.5,122.8 L791.2,122.9 L791.8,122.9 L792.5,123.0 L793.2,123.1 L793.9,123.2 L794.6,123.3 L795.2,123.4 L795.9,123.5 L796.6,123.6 L797.3,123.6 L798.0,123.7 L798.6,123.8 L799.3,123.9 L800.0,124.0 L800.7,124.1 L801.3,124.3 L802.0,124.4 L802.7,124.5 L803.4,124.7 L804.1,124.8 L804.7,124.9 L805.4,125.1 L806.1,125.2 L806.8,125.4 L807.5,125.5 L808.1,125.6 L808.8,125.8 L809.5,125.9 L810.2,126.0 L810.8,126.2 L811.5,126.4 L812.2,126.6 L812.9,126.7 L813.6,126.9 L814.2,127.1 L814.9,127.2 L815.6,127.4 L816.3,127.6 L817.0,127.7 L817.6,127.9 L818.3,128.1 L819.0,128.2 L819.7,128.4 L820.3,128.4 L821.0,128.1 L821.7,127.9 L822.4,127.6 L823.1,127.4 L823.7,127.1 L824.4,126.8 L825.1,126.6 L825.8,126.3 L826.5,126.1 L827.1,125.8 L827.8,125.6 L828.5,125.5 L829.2,125.5 L829.8,125.5 L830.5,125.4 L831.2,125.4 L831.9,125.4 L832.6,125.4 L833.2,125.4 L833.9,125.4 L834.6,125.3 L835.3,125.3 L836.0,125.3 L836.6,125.4 L837.3,125.5 L838.0,125.7 L838.7,125.8 L839.3,125.9 L840.0,126.1 L840.7,126.2 L841.4,126.3 L842.1,126.4 L842.7,126.6 L843.4,126.7 L844.1,126.8 L844.8,127.0 L845.5,127.1 L846.1,127.2 L846.8,127.4 L847.5,127.5 L848.2,127.6 L848.8,127.8 L849.5,127.9 L850.2,128.1 L850.9,128.4 L851.6,128.6 L852.2,128.9 L852.9,129.2 L853.6,129.4 L854.3,129.7 L855.0,130.0 L855.6,130.3 L856.3,130.5 L857.0,130.8 L857.7,131.1 L858.3,131.3 L859.0,131.6 L859.7,131.9 L860.4,132.1 L861.1,132.2 L861.7,132.3 L862.4,132.5 L863.1,132.6 L863.8,132.8 L864.5,132.9 L865.1,133.0 L865.8,133.2 L866.5,133.3 L867.2,133.4 L867.9,133.6 L868.5,133.7 L869.2,133.8 L869.9,134.0 L870.6,134.1 L871.2,134.2 L871.9,134.2 L872.6,134.3 L873.3,134.4 L874.0,134.5 L874.6,134.6 L875.3,134.7 L876.0,134.8 L876.7,134.9 L877.4,135.0 L878.0,135.0 L878.7,135.1 L879.4,135.2 L880.1,135.3 L880.7,135.4 L881.4,135.6 L882.1,135.7 L882.8,135.9 L883.5,136.0 L884.1,136.1 L884.8,136.3 L885.5,136.4 L886.2,136.5 L886.9,136.7 L887.5,136.8 L888.2,137.0 L888.9,137.1 L889.6,137.2 L890.2,137.4 L890.9,137.5 L891.6,137.7 L892.3,137.8 L893.0,138.0 L893.6,138.1 L894.3,138.2 L895.0,138.4 L895.7,138.5 L896.4,138.7 L897.0,138.8 L897.7,138.9 L898.4,139.1 L899.1,139.2 L899.7,139.2 L900.4,139.3 L901.1,139.4 L901.8,139.5 L902.5,139.6 L903.1,139.7 L903.8,139.8 L904.5,139.9 L905.2,140.0 L905.9,140.1 L906.5,140.2 L907.2,140.3 L907.9,140.4 L908.6,140.5 L909.2,140.6 L909.9,140.7 L910.6,140.8 L911.3,140.9 L912.0,141.0 L912.6,141.1 L913.3,141.2 L914.0,141.3 L914.7,141.4 L915.4,141.5 L916.0,141.6 L916.7,141.7 L917.4,141.8 L918.1,141.9 L918.7,142.0 L919.4,142.1 L920.1,142.2 L920.8,142.4 L921.5,142.5 L922.1,142.6 L922.8,142.7 L923.5,142.8 L924.2,142.9 L924.9,143.0 L925.5,143.0 L926.2,143.1 L926.9,143.1 L927.6,143.2 L928.2,143.2 L928.9,143.3 L929.6,143.3 L930.3,143.4 L931.0,143.4 L931.6,143.5 L932.3,143.5 L933.0,143.6 L933.7,143.6 L934.4,143.7 L935.0,143.7 L935.7,143.8 L936.4,143.8 L937.1,143.9 L937.7,143.9 L938.4,144.0 L939.1,144.0 L939.8,144.1 L940.5,144.1 L941.1,144.2 L941.8,144.2 L942.5,144.3 L942.5,156.3 L941.8,156.2 L941.1,156.2 L940.5,156.1 L939.8,156.1 L939.1,156.0 L938.4,156.0 L937.7,155.9 L937.1,155.8 L936.4,155.8 L935.7,155.7 L935.0,155.7 L934.4,155.6 L933.7,155.5 L933.0,155.5 L932.3,155.4 L931.6,155.4 L931.0,155.3 L930.3,155.3 L929.6,155.2 L928.9,155.1 L928.2,155.1 L927.6,155.0 L926.9,155.0 L926.2,154.9 L925.5,154.9 L924.9,154.8 L924.2,154.7 L923.5,154.7 L922.8,154.6 L922.1,154.6 L921.5,154.5 L920.8,154.4 L920.1,154.4 L919.4,154.3 L918.7,154.3 L918.1,154.2 L917.4,154.2 L916.7,154.1 L916.0,154.0 L915.4,154.0 L914.7,153.9 L914.0,153.9 L913.3,153.8 L912.6,153.8 L912.0,153.7 L911.3,153.6 L910.6,153.6 L909.9,153.5 L909.2,153.5 L908.6,153.4 L907.9,153.4 L907.2,153.3 L906.5,153.2 L905.9,153.2 L905.2,153.1 L904.5,153.1 L903.8,153.0 L903.1,153.0 L902.5,152.9 L901.8,152.8 L901.1,152.8 L900.4,152.7 L899.7,152.7 L899.1,152.6 L898.4,152.6 L897.7,152.5 L897.0,152.4 L896.4,152.4 L895.7,152.3 L895.0,152.3 L894.3,152.2 L893.6,152.2 L893.0,152.1 L892.3,152.0 L891.6,152.0 L890.9,151.9 L890.2,151.9 L889.6,151.8 L888.9,151.7 L888.2,151.7 L887.5,151.6 L886.9,151.6 L886.2,151.5 L885.5,151.5 L884.8,151.4 L884.1,151.3 L883.5,151.3 L882.8,151.2 L882.1,151.2 L881.4,151.1 L880.7,151.1 L880.1,151.0 L879.4,151.0 L878.7,151.0 L878.0,150.9 L877.4,150.9 L876.7,150.9 L876.0,150.9 L875.3,150.8 L874.6,150.8 L874.0,150.8 L873.3,150.8 L872.6,150.8 L871.9,150.7 L871.2,150.7 L870.6,150.7 L869.9,150.7 L869.2,150.6 L868.5,150.6 L867.9,150.6 L867.2,150.6 L866.5,150.5 L865.8,150.5 L865.1,150.5 L864.5,150.5 L863.8,150.5 L863.1,150.4 L862.4,150.4 L861.7,150.4 L861.1,150.4 L860.4,150.3 L859.7,150.3 L859.0,150.3 L858.3,150.3 L857.7,150.3 L857.0,150.2 L856.3,150.2 L855.6,150.2 L855.0,150.2 L854.3,150.1 L853.6,150.1 L852.9,150.1 L852.2,150.1 L851.6,150.1 L850.9,150.0 L850.2,150.0 L849.5,150.0 L848.8,149.9 L848.2,149.9 L847.5,149.8 L846.8,149.8 L846.1,149.7 L845.5,149.7 L844.8,149.6 L844.1,149.5 L843.4,149.5 L842.7,149.4 L842.1,149.4 L841.4,149.3 L840.7,149.3 L840.0,149.2 L839.3,149.2 L838.7,149.1 L838.0,149.1 L837.3,149.0 L836.6,149.0 L836.0,148.9 L835.3,148.9 L834.6,148.8 L833.9,148.8 L833.2,148.7 L832.6,148.7 L831.9,148.6 L831.2,148.6 L830.5,148.5 L829.8,148.5 L829.2,148.4 L828.5,148.4 L827.8,148.3 L827.1,148.2 L826.5,148.2 L825.8,148.1 L825.1,148.1 L824.4,148.0 L823.7,148.0 L823.1,147.9 L822.4,147.9 L821.7,147.8 L821.0,147.8 L820.3,147.7 L819.7,147.7 L819.0,147.6 L818.3,147.5 L817.6,147.5 L817.0,147.4 L816.3,147.3 L815.6,147.3 L814.9,147.2 L814.2,147.1 L813.6,147.1 L812.9,147.0 L812.2,146.9 L811.5,146.9 L810.8,146.8 L810.2,146.7 L809.5,146.6 L808.8,146.6 L808.1,146.5 L807.5,146.4 L806.8,146.4 L806.1,146.3 L805.4,146.2 L804.7,146.2 L804.1,146.1 L803.4,146.0 L802.7,146.0 L802.0,145.9 L801.3,145.8 L800.7,145.8 L800.0,145.7 L799.3,145.6 L798.6,145.6 L798.0,145.5 L797.3,145.5 L796.6,145.4 L795.9,145.4 L795.2,145.3 L794.6,145.3 L793.9,145.2 L793.2,145.2 L792.5,145.1 L791.8,145.1 L791.2,145.0 L790.5,145.0 L789.8,144.9 L789.1,144.9 L788.5,144.8 L787.8,144.8 L787.1,144.7 L786.4,144.7 L785.7,144.6 L785.1,144.6 L784.4,144.5 L783.7,144.5 L783.0,144.4 L782.3,144.4 L781.7,144.3 L781.0,144.3 L780.3,144.2 L779.6,144.2 L778.9,144.1 L778.3,144.0 L777.6,144.0 L776.9,143.9 L776.2,143.9 L775.6,143.8 L774.9,143.8 L774.2,143.7 L773.5,143.6 L772.8,143.4 L772.2,143.3 L771.5,143.2 L770.8,143.1 L770.1,143.0 L769.4,142.9 L768.8,142.8 L768.1,142.6 L767.4,142.5 L766.7,142.4 L766.1,142.3 L765.4,142.2 L764.7,142.1 L764.0,142.0 L763.3,141.9 L762.7,141.7 L762.0,141.6 L761.3,141.5 L760.6,141.4 L759.9,141.3 L759.3,141.2 L758.6,141.1 L757.9,140.9 L757.2,140.8 L756.6,140.7 L755.9,140.6 L755.2,140.5 L754.5,140.4 L753.8,140.3 L753.2,140.2 L752.5,140.0 L751.8,139.9 L751.1,139.8 L750.4,139.7 L749.8,139.6 L749.1,139.5 L748.4,139.4 L747.7,139.2 L747.1,139.1 L746.4,139.0 L745.7,138.9 L745.0,138.8 L744.3,138.7 L743.7,138.6 L743.0,138.4 L742.3,138.3 L741.6,138.2 L740.9,138.1 L740.3,138.0 L739.6,137.9 L738.9,137.8 L738.2,137.6 L737.6,137.5 L736.9,137.4 L736.2,137.3 L735.5,137.2 L734.8,137.1 L734.2,137.0 L733.5,136.9 L732.8,136.8 L732.1,136.7 L731.4,136.6 L730.8,136.5 L730.1,136.4 L729.4,136.3 L728.7,136.2 L728.1,136.1 L727.4,136.0 L726.7,135.9 L726.0,135.8 L725.3,135.7 L724.7,135.6 L724.0,135.5 L723.3,135.4 L722.6,135.3 L721.9,135.2 L721.3,135.1 L720.6,135.0 L719.9,134.9 L719.2,134.7 L718.6,134.5 L717.9,134.3 L717.2,134.2 L716.5,134.0 L715.8,133.8 L715.2,133.6 L714.5,133.5 L713.8,133.3 L713.1,133.1 L712.4,132.9 L711.8,132.8 L711.1,132.6 L710.4,132.4 L709.7,132.2 L709.1,132.0 L708.4,131.8 L707.7,131.7 L707.0,131.5 L706.3,131.3 L705.7,131.1 L705.0,130.9 L704.3,130.7 L703.6,130.5 L702.9,130.3 L702.3,130.1 L701.6,129.9 L700.9,129.8 L700.2,129.6 L699.6,129.3 L698.9,129.0 L698.2,128.7 L697.5,128.4 L696.8,128.1 L696.2,127.8 L695.5,127.5 L694.8,127.2 L694.1,126.9 L693.4,126.5 L692.8,126.2 L692.1,125.9 L691.4,125.6 L690.7,125.3 L690.0,125.0 L689.4,124.7 L688.7,124.3 L688.0,124.0 L687.3,123.7 L686.7,123.3 L686.0,123.0 L685.3,122.6 L684.6,122.3 L683.9,121.8 L683.3,121.4 L682.6,121.0 L681.9,120.6 L681.2,120.2 L680.5,119.8 L679.9,119.3 L679.2,118.9 L678.5,118.5 L677.8,118.2 L677.2,118.4 L676.5,118.5 L675.8,118.7 L675.1,118.8 L674.4,119.0 L673.8,119.1 L673.1,119.3 L672.4,119.4 L671.7,119.8 L671.0,120.6 L670.4,121.4 L669.7,122.2 L669.0,123.0 L668.3,123.8 L667.7,124.6 L667.0,125.5 L666.3,126.4 L665.6,127.4 L664.9,128.3 L664.3,129.3 L663.6,130.3 L662.9,131.2 L662.2,132.5 L661.5,134.0 L660.9,135.5 L660.2,137.0 L659.5,138.5 L658.8,140.1 L658.2,141.8 L657.5,143.5 L656.8,145.1 L656.1,146.8 L655.4,148.4 L654.8,150.1 L654.1,152.1 L653.4,154.0 L652.7,155.9 L652.0,157.9 L651.4,159.5 L650.7,161.1 L650.0,162.6 L649.3,164.2 L648.7,165.8 L648.0,167.2 L647.3,168.7 L646.6,170.2 L645.9,171.7 L645.3,173.3 L644.6,175.0 L643.9,176.6 L643.2,178.2 L642.5,179.9 L641.9,182.4 L641.2,185.0 L640.5,187.6 L639.8,189.6 L639.2,191.5 L638.5,193.4 L637.8,195.3 L637.1,197.3 L636.4,199.2 L635.8,201.1 L635.1,203.2 L634.4,205.2 L633.7,207.2 L633.0,209.2 L632.4,211.3 L631.7,213.3 L631.0,215.3 L630.3,217.4 L629.7,219.4 L629.0,221.4 L628.3,223.4 L627.6,225.5 L626.9,227.5 L626.3,229.5 L625.6,231.9 L624.9,234.5 L624.2,237.0 L623.5,239.5 L622.9,242.0 L622.2,244.5 L621.5,247.1 L620.8,249.6 L620.2,252.1 L619.5,254.6 L618.8,257.1 L618.1,259.6 L617.4,262.2 L616.8,264.8 L616.1,267.5 L615.4,270.2 L614.7,272.9 L614.0,275.6 L613.4,278.3 L612.7,281.0 L612.0,283.6 L611.3,286.3 L610.6,289.0 L610.0,291.8 L609.3,294.7 L608.6,297.5 L607.9,300.4 L607.3,303.3 L606.6,306.2 L605.9,309.0 L605.2,311.9 L604.5,314.8 L603.9,317.6 L603.2,320.6 L602.5,324.4 L601.8,328.2 L601.1,332.0 L600.5,335.8 L599.8,339.5 L599.1,343.3 L598.4,347.1 L597.8,350.9 L597.1,353.8 L596.4,356.7 L595.7,358.6 L595.0,360.4 L594.4,361.9 L593.7,363.1 L593.0,363.7 L592.3,364.2 L591.6,364.4 L591.0,364.5 L590.3,364.6 L589.6,364.4 L588.9,364.3 L588.3,364.2 L587.6,363.7 L586.9,363.2 L586.2,362.6 L585.5,361.7 L584.9,360.7 L584.2,359.7 L583.5,357.9 L582.8,356.2 L582.1,354.2 L581.5,352.2 L580.8,350.2 L580.1,347.7 L579.4,344.9 L578.8,341.7 L578.1,338.4 L577.4,341.4 L576.7,345.3 L576.0,349.2 L575.4,353.1 L574.7,354.0 L574.0,354.0 L573.3,354.0 L572.6,354.0 L572.0,354.0 L571.3,354.0 L570.6,354.0 L569.9,354.0 L569.3,354.0 L568.6,354.0 L567.9,354.0 L567.2,354.0 L566.5,354.0 L565.9,354.0 L565.2,354.0 L564.5,354.0 L563.8,354.0 L563.1,354.0 L562.5,354.0 L561.8,354.0 L561.1,354.0 L560.4,354.0 L559.8,354.0 L559.1,354.0 L558.4,354.0 L557.7,354.0 L557.0,354.0 L556.4,354.0 L555.7,354.0 L555.0,354.0 L554.3,354.0 L553.6,354.0 L553.0,354.0 L552.3,354.0 L551.6,354.0 L550.9,354.0 L550.3,354.0 L549.6,354.0 L548.9,354.0 L548.2,354.0 L547.5,354.0 L546.9,354.0 L546.2,354.0 L545.5,354.0 L544.8,354.0 L544.1,354.0 L543.5,354.0 L542.8,354.0 L542.1,354.0 L541.4,354.0 L540.8,354.0 L540.1,354.0 L539.4,354.0 L538.7,354.0 L538.0,354.0 L537.4,354.0 L536.7,354.0 L536.0,354.0Z" fill="#00ff00" stroke="none" shape-rendering="crispEdges"/>
<path d="M73.80,124.00L129.00,124.00L129.00,126.00L73.80,126.00ZM128.00,125.00L130.30,176.00L132.30,176.00L130.00,125.00ZM131.30,175.00L186.93,175.00L186.93,177.00L131.30,177.00ZM185.93,176.00L188.23,139.00L190.23,139.00L187.93,176.00ZM189.23,138.00L244.87,138.00L244.87,140.00L189.23,140.00ZM243.87,139.00L246.17,186.00L248.17,186.00L245.87,139.00ZM247.17,185.00L302.80,185.00L302.80,187.00L247.17,187.00ZM301.80,186.00L304.10,337.00L306.10,337.00L303.80,186.00ZM305.10,336.00L360.73,336.00L360.73,338.00L305.10,338.00ZM359.73,337.00L362.03,180.00L364.03,180.00L361.73,337.00ZM363.03,179.00L418.67,179.00L418.67,181.00L363.03,181.00ZM417.67,180.00L419.97,163.00L421.97,163.00L419.67,180.00ZM420.97,162.00L476.60,162.00L476.60,164.00L420.97,164.00ZM475.60,163.00L477.90,258.00L479.90,258.00L477.60,163.00ZM478.90,257.00L534.53,257.00L534.53,259.00L478.90,259.00ZM533.53,258.00L535.83,353.00L537.83,353.00L535.53,258.00ZM536.83,352.00L575.20,352.00L575.20,354.00L536.83,354.00ZM574.20,353.00L577.00,334.00L579.00,334.00L576.20,353.00ZM577.00,334.00L578.20,340.17L580.20,340.17L579.00,334.00ZM578.20,340.17L579.50,345.78L581.50,345.78L580.20,340.17ZM579.50,345.78L581.80,352.85L583.80,352.85L581.50,345.78ZM581.80,352.85L583.30,356.78L585.30,356.78L583.80,352.85ZM583.30,356.78L585.30,359.69L587.30,359.69L585.30,356.78ZM586.30,358.69L588.20,360.15L588.20,362.15L586.30,360.69ZM588.20,360.15L590.40,360.60L590.40,362.60L588.20,362.15ZM590.40,360.60L592.26,360.30L592.26,362.30L590.40,362.60ZM592.26,360.30L593.60,359.30L593.60,361.30L592.26,362.30ZM592.60,360.30L593.83,358.10L595.83,358.10L594.60,360.30ZM593.83,358.10L595.38,354.00L597.38,354.00L595.83,358.10ZM595.38,354.00L596.83,347.90L598.83,347.90L597.38,354.00ZM596.83,347.90L598.48,338.80L600.48,338.80L598.83,347.90ZM598.48,338.80L601.80,320.00L603.80,320.00L600.48,338.80ZM601.80,320.00L607.80,290.00L609.80,290.00L603.80,320.00ZM607.80,290.00L614.40,262.30L616.40,262.30L609.80,290.00ZM614.40,262.30L622.80,230.00L624.80,230.00L616.40,262.30ZM622.80,230.00L630.60,200.40L632.60,200.40L624.80,230.00ZM630.60,200.40L633.80,188.00L635.80,188.00L632.60,200.40ZM633.80,188.00L636.50,180.00L638.50,180.00L635.80,188.00ZM636.50,180.00L640.10,172.00L642.10,172.00L638.50,180.00ZM640.10,172.00L643.80,165.00L645.80,165.00L642.10,172.00ZM643.80,165.00L647.30,158.00L649.30,158.00L645.80,165.00ZM647.30,158.00L650.20,150.00L652.20,150.00L649.30,158.00ZM650.20,150.00L656.00,139.00L658.00,139.00L652.20,150.00ZM656.00,139.00L660.50,130.00L662.50,130.00L658.00,139.00ZM660.50,130.00L663.60,121.60L665.60,121.60L662.50,130.00ZM663.60,121.60L666.60,116.00L668.60,116.00L665.60,121.60ZM666.60,116.00L670.00,111.20L672.00,111.20L668.60,116.00ZM671.00,110.20L675.00,107.80L675.00,109.80L671.00,112.20ZM675.00,107.80L680.00,108.50L680.00,110.50L675.00,109.80ZM680.00,108.50L684.50,111.30L684.50,113.30L680.00,110.50ZM684.50,111.30L691.70,117.60L691.70,119.60L684.50,113.30ZM691.70,117.60L700.00,121.30L700.00,123.30L691.70,119.60ZM700.00,121.30L713.30,125.30L713.30,127.30L700.00,123.30ZM713.30,125.30L720.00,127.00L720.00,129.00L713.30,127.30ZM720.00,127.00L730.00,130.00L730.00,132.00L720.00,129.00ZM730.00,130.00L735.00,131.00L735.00,133.00L730.00,132.00ZM735.00,131.00L746.70,134.70L746.70,136.70L735.00,133.00ZM746.70,134.70L755.00,135.30L755.00,137.30L746.70,136.70ZM755.00,135.30L760.00,135.70L760.00,137.70L755.00,137.30ZM760.00,135.70L768.40,136.70L768.40,138.70L760.00,137.70ZM768.40,136.70L780.00,138.70L780.00,140.70L768.40,138.70ZM780.00,138.70L790.00,140.70L790.00,142.70L780.00,140.70ZM790.00,140.70L800.00,142.00L800.00,144.00L790.00,142.70ZM800.00,142.00L810.00,143.30L810.00,145.30L800.00,144.00ZM810.00,143.30L820.00,142.50L820.00,144.50L810.00,145.30ZM820.00,142.50L840.00,142.30L840.00,144.30L820.00,144.50ZM840.00,142.30L850.00,141.70L850.00,143.70L840.00,144.30ZM850.00,141.70L860.00,143.00L860.00,145.00L850.00,143.70ZM860.00,143.00L866.00,146.50L866.00,148.50L860.00,145.00ZM866.00,146.50L873.30,145.00L873.30,147.00L866.00,148.50ZM873.30,145.00L880.00,144.00L880.00,146.00L873.30,147.00ZM880.00,144.00L885.00,144.70L885.00,146.70L880.00,146.00ZM885.00,144.70L893.00,146.70L893.00,148.70L885.00,146.70ZM893.00,146.70L905.00,149.00L905.00,151.00L893.00,148.70ZM905.00,149.00L918.30,151.00L918.30,153.00L905.00,151.00ZM918.30,151.00L931.70,152.70L931.70,154.70L918.30,153.00ZM931.70,152.70L942.50,154.00L942.50,156.00L931.70,154.70ZM128.15,124.15h1.70v1.70h-1.70ZM130.45,175.15h1.70v1.70h-1.70ZM186.08,175.15h1.70v1.70h-1.70ZM188.38,138.15h1.70v1.70h-1.70ZM244.02,138.15h1.70v1.70h-1.70ZM246.32,185.15h1.70v1.70h-1.70ZM301.95,185.15h1.70v1.70h-1.70ZM304.25,336.15h1.70v1.70h-1.70ZM359.88,336.15h1.70v1.70h-1.70ZM362.18,179.15h1.70v1.70h-1.70ZM417.81,179.15h1.70v1.70h-1.70ZM420.12,162.15h1.70v1.70h-1.70ZM475.75,162.15h1.70v1.70h-1.70ZM478.05,257.15h1.70v1.70h-1.70ZM533.68,257.15h1.70v1.70h-1.70ZM535.98,352.15h1.70v1.70h-1.70ZM574.35,352.15h1.70v1.70h-1.70ZM577.15,333.15h1.70v1.70h-1.70ZM578.35,339.32h1.70v1.70h-1.70ZM579.65,344.93h1.70v1.70h-1.70ZM581.95,352.00h1.70v1.70h-1.70ZM583.45,355.93h1.70v1.70h-1.70ZM585.45,358.84h1.70v1.70h-1.70ZM587.35,360.30h1.70v1.70h-1.70ZM589.55,360.75h1.70v1.70h-1.70ZM591.41,360.45h1.70v1.70h-1.70ZM592.75,359.45h1.70v1.70h-1.70ZM593.98,357.25h1.70v1.70h-1.70ZM595.53,353.15h1.70v1.70h-1.70ZM596.98,347.05h1.70v1.70h-1.70ZM598.62,337.95h1.70v1.70h-1.70ZM601.95,319.15h1.70v1.70h-1.70ZM607.95,289.15h1.70v1.70h-1.70ZM614.55,261.45h1.70v1.70h-1.70ZM622.95,229.15h1.70v1.70h-1.70ZM630.75,199.55h1.70v1.70h-1.70ZM633.95,187.15h1.70v1.70h-1.70ZM636.65,179.15h1.70v1.70h-1.70ZM640.25,171.15h1.70v1.70h-1.70ZM643.95,164.15h1.70v1.70h-1.70ZM647.45,157.15h1.70v1.70h-1.70ZM650.35,149.15h1.70v1.70h-1.70ZM656.15,138.15h1.70v1.70h-1.70ZM660.65,129.15h1.70v1.70h-1.70ZM663.75,120.75h1.70v1.70h-1.70ZM666.75,115.15h1.70v1.70h-1.70ZM670.15,110.35h1.70v1.70h-1.70ZM674.15,107.95h1.70v1.70h-1.70ZM679.15,108.65h1.70v1.70h-1.70ZM683.65,111.45h1.70v1.70h-1.70ZM690.85,117.75h1.70v1.70h-1.70ZM699.15,121.45h1.70v1.70h-1.70ZM712.45,125.45h1.70v1.70h-1.70ZM719.15,127.15h1.70v1.70h-1.70ZM729.15,130.15h1.70v1.70h-1.70ZM734.15,131.15h1.70v1.70h-1.70ZM745.85,134.85h1.70v1.70h-1.70ZM754.15,135.45h1.70v1.70h-1.70ZM759.15,135.85h1.70v1.70h-1.70ZM767.55,136.85h1.70v1.70h-1.70ZM779.15,138.85h1.70v1.70h-1.70ZM789.15,140.85h1.70v1.70h-1.70ZM799.15,142.15h1.70v1.70h-1.70ZM809.15,143.45h1.70v1.70h-1.70ZM819.15,142.65h1.70v1.70h-1.70ZM839.15,142.45h1.70v1.70h-1.70ZM849.15,141.85h1.70v1.70h-1.70ZM859.15,143.15h1.70v1.70h-1.70ZM865.15,146.65h1.70v1.70h-1.70ZM872.45,145.15h1.70v1.70h-1.70ZM879.15,144.15h1.70v1.70h-1.70ZM884.15,144.85h1.70v1.70h-1.70ZM892.15,146.85h1.70v1.70h-1.70ZM904.15,149.15h1.70v1.70h-1.70ZM917.45,151.15h1.70v1.70h-1.70ZM930.85,152.85h1.70v1.70h-1.70Z" fill="#007800" stroke="none"/>
<g fill="#007800" stroke="none"><rect x="576" y="330" width="4" height="4"/><rect x="677" y="92" width="4" height="4"/><rect x="674" y="96" width="4" height="4"/><rect x="679" y="98" width="4" height="4"/><rect x="684" y="97" width="4" height="4"/><rect x="687" y="104" width="4" height="4"/><rect x="674" y="101" width="4" height="4"/><rect x="673" y="103" width="4" height="4"/><rect x="672" y="105" width="4" height="4"/><rect x="674" y="107" width="4" height="4"/><rect x="673" y="110" width="4" height="4"/><rect x="674" y="113" width="4" height="4"/><rect x="673" y="116" width="4" height="4"/><rect x="674" y="119" width="4" height="4"/><rect x="673" y="122" width="4" height="4"/><rect x="670" y="114" width="4" height="4"/><rect x="671" y="117" width="4" height="4"/><rect x="672" y="119" width="4" height="4"/><rect x="672" y="111" width="4" height="4"/><rect x="752" y="68" width="4" height="4"/><rect x="737" y="74" width="4" height="4"/><rect x="735" y="80" width="4" height="4"/><rect x="732" y="82" width="4" height="4"/><rect x="742" y="86" width="4" height="4"/><rect x="740" y="89" width="4" height="4"/><rect x="728" y="90" width="4" height="4"/><rect x="749" y="90" width="4" height="4"/><rect x="723" y="94" width="4" height="4"/><rect x="742" y="94" width="4" height="4"/><rect x="740" y="95" width="4" height="4"/><rect x="723" y="99" width="4" height="4"/><rect x="720" y="103" width="4" height="4"/><rect x="735" y="103" width="4" height="4"/><rect x="711" y="114" width="4" height="4"/><rect x="720" y="114" width="4" height="4"/><rect x="728" y="115" width="4" height="4"/><rect x="747" y="116" width="4" height="4"/><rect x="725" y="121" width="4" height="4"/><rect x="759" y="83" width="4" height="4"/><rect x="769" y="116" width="4" height="4"/><rect x="764" y="127" width="4" height="4"/><rect x="783" y="130" width="4" height="4"/><rect x="798" y="122" width="4" height="4"/><rect x="812" y="129" width="4" height="4"/><rect x="807" y="132" width="4" height="4"/><rect x="805" y="134" width="4" height="4"/><rect x="778" y="139" width="4" height="4"/><rect x="798" y="138" width="4" height="4"/><rect x="810" y="140" width="4" height="4"/><rect x="812" y="144" width="4" height="4"/><rect x="817" y="145" width="4" height="4"/><rect x="836" y="116" width="4" height="4"/><rect x="843" y="117" width="4" height="4"/><rect x="848" y="121" width="4" height="4"/><rect x="863" y="121" width="4" height="4"/><rect x="868" y="118" width="4" height="4"/><rect x="827" y="124" width="4" height="4"/><rect x="875" y="125" width="4" height="4"/><rect x="860" y="129" width="4" height="4"/><rect x="843" y="132" width="4" height="4"/><rect x="848" y="133" width="4" height="4"/><rect x="839" y="135" width="4" height="4"/><rect x="860" y="137" width="4" height="4"/><rect x="841" y="141" width="4" height="4"/><rect x="841" y="142" width="4" height="4"/><rect x="865" y="141" width="4" height="4"/><rect x="870" y="140" width="4" height="4"/><rect x="875" y="140" width="4" height="4"/><rect x="839" y="147" width="4" height="4"/><rect x="858" y="145" width="4" height="4"/><rect x="877" y="147" width="4" height="4"/><rect x="889" y="115" width="4" height="4"/><rect x="921" y="143" width="4" height="4"/><rect x="926" y="147" width="4" height="4"/><rect x="921" y="148" width="4" height="4"/><rect x="906" y="146" width="4" height="4"/><rect x="889" y="148" width="4" height="4"/><rect x="889" y="151" width="4" height="4"/><rect x="926" y="153" width="4" height="4"/><rect x="938" y="138" width="4" height="4"/></g>
<path d="M574.30,353.00L577.10,334.50L578.90,334.50L576.10,353.00ZM577.10,334.50L578.30,341.32L580.10,341.32L578.90,334.50ZM578.30,341.32L579.60,347.52L581.40,347.52L580.10,341.32ZM579.60,347.52L581.90,355.33L583.70,355.33L581.40,347.52ZM581.90,355.33L583.40,359.67L585.20,359.67L583.70,355.33ZM583.40,359.67L585.40,362.89L587.20,362.89L585.20,359.67ZM586.30,361.99L588.20,363.60L588.20,365.40L586.30,363.79ZM588.20,363.60L590.40,364.10L590.40,365.90L588.20,365.40ZM590.40,364.10L592.16,363.80L592.16,365.60L590.40,365.90ZM592.16,363.80L593.44,362.80L593.44,364.60L592.16,365.60ZM592.54,363.70L593.71,361.50L595.51,361.50L594.34,363.70ZM593.71,361.50L595.18,357.40L596.98,357.40L595.51,361.50ZM595.18,357.40L596.55,351.30L598.35,351.30L596.98,357.40ZM596.55,351.30L598.12,342.20L599.92,342.20L598.35,351.30ZM598.12,342.20L600.90,321.00L602.70,321.00L599.92,342.20ZM600.90,321.00L605.90,290.00L607.70,290.00L602.70,321.00ZM605.90,290.00L613.10,262.30L614.90,262.30L607.70,290.00ZM613.10,262.30L623.70,230.00L625.50,230.00L614.90,262.30ZM623.70,230.00L633.30,200.40L635.10,200.40L625.50,230.00ZM633.30,200.40L638.40,188.00L640.20,188.00L635.10,200.40ZM638.40,188.00L640.80,180.00L642.60,180.00L640.20,188.00ZM640.80,180.00L643.90,172.00L645.70,172.00L642.60,180.00ZM643.90,172.00L647.00,165.00L648.80,165.00L645.70,172.00ZM647.00,165.00L650.00,158.00L651.80,158.00L648.80,165.00ZM650.00,158.00L652.70,150.00L654.50,150.00L651.80,158.00ZM652.70,150.00L656.90,139.00L658.70,139.00L654.50,150.00ZM656.90,139.00L660.60,130.00L662.40,130.00L658.70,139.00ZM660.60,130.00L665.10,123.60L666.90,123.60L662.40,130.00ZM665.10,123.60L669.60,116.80L671.40,116.80L666.90,123.60ZM669.60,116.80L673.80,110.80L675.60,110.80L671.40,116.80ZM674.70,109.90L678.00,108.40L678.00,110.20L674.70,111.70ZM678.00,108.40L684.00,110.10L684.00,111.90L678.00,110.20ZM684.00,110.10L690.00,113.10L690.00,114.90L684.00,111.90ZM690.00,113.10L700.00,118.10L700.00,119.90L690.00,114.90ZM700.00,118.10L709.00,122.10L709.00,123.90L700.00,119.90ZM709.00,122.10L712.00,124.10L712.00,125.90L709.00,123.90ZM577.24,333.74h1.53v1.53h-1.53ZM578.44,340.55h1.53v1.53h-1.53ZM579.74,346.75h1.53v1.53h-1.53ZM582.03,354.56h1.53v1.53h-1.53ZM583.53,358.90h1.53v1.53h-1.53ZM585.53,362.13h1.53v1.53h-1.53ZM587.44,363.74h1.53v1.53h-1.53ZM589.63,364.24h1.53v1.53h-1.53ZM591.40,363.94h1.53v1.53h-1.53ZM592.67,362.94h1.53v1.53h-1.53ZM593.85,360.74h1.53v1.53h-1.53ZM595.31,356.63h1.53v1.53h-1.53ZM596.69,350.53h1.53v1.53h-1.53ZM598.25,341.44h1.53v1.53h-1.53ZM601.03,320.24h1.53v1.53h-1.53ZM606.03,289.24h1.53v1.53h-1.53ZM613.24,261.54h1.53v1.53h-1.53ZM623.84,229.24h1.53v1.53h-1.53ZM633.44,199.64h1.53v1.53h-1.53ZM638.53,187.24h1.53v1.53h-1.53ZM640.94,179.24h1.53v1.53h-1.53ZM644.03,171.24h1.53v1.53h-1.53ZM647.13,164.24h1.53v1.53h-1.53ZM650.13,157.24h1.53v1.53h-1.53ZM652.84,149.24h1.53v1.53h-1.53ZM657.03,138.24h1.53v1.53h-1.53ZM660.74,129.24h1.53v1.53h-1.53ZM665.24,122.83h1.53v1.53h-1.53ZM669.74,116.03h1.53v1.53h-1.53ZM673.94,110.03h1.53v1.53h-1.53ZM677.24,108.53h1.53v1.53h-1.53ZM683.24,110.23h1.53v1.53h-1.53ZM689.24,113.23h1.53v1.53h-1.53ZM699.24,118.23h1.53v1.53h-1.53ZM708.24,122.23h1.53v1.53h-1.53Z" fill="#ff8000" stroke="none"/>
<path d="M475.62,165.00L477.97,258.00L479.82,258.00L477.48,165.00ZM478.90,257.07L534.55,257.07L534.55,258.93L478.90,258.93ZM533.62,258.00L535.93,353.00L537.77,353.00L535.47,258.00ZM536.85,352.07L575.20,352.07L575.20,353.93L536.85,353.93ZM574.28,353.00L577.08,335.50L578.92,335.50L576.12,353.00ZM577.08,335.50L578.28,342.54L580.12,342.54L578.92,335.50ZM578.28,342.54L579.58,348.95L581.42,348.95L580.12,342.54ZM579.58,348.95L581.88,357.01L583.72,357.01L581.42,348.95ZM581.88,357.01L583.38,361.49L585.22,361.49L583.72,357.01ZM583.38,361.49L585.38,364.82L587.22,364.82L585.22,361.49ZM586.30,363.90L588.20,365.56L588.20,367.41L586.30,365.75ZM588.20,365.56L590.40,366.07L590.40,367.93L588.20,367.41ZM590.40,366.07L592.26,365.77L592.26,367.62L590.40,367.93ZM592.26,365.77L593.60,364.77L593.60,366.62L592.26,367.62ZM592.67,365.70L593.91,363.50L595.76,363.50L594.52,365.70ZM593.91,363.50L595.46,359.40L597.31,359.40L595.76,363.50ZM595.46,359.40L596.90,353.30L598.75,353.30L597.31,359.40ZM596.90,353.30L598.55,344.20L600.40,344.20L598.75,353.30ZM598.55,344.20L601.28,322.00L603.12,322.00L600.40,344.20ZM601.28,322.00L606.38,290.00L608.22,290.00L603.12,322.00ZM606.38,290.00L613.58,262.30L615.42,262.30L608.22,290.00ZM613.58,262.30L624.38,230.00L626.22,230.00L615.42,262.30ZM624.38,230.00L633.68,200.40L635.52,200.40L626.22,230.00ZM633.68,200.40L638.78,188.00L640.62,188.00L635.52,200.40ZM638.78,188.00L641.18,180.00L643.02,180.00L640.62,188.00ZM641.18,180.00L644.28,172.00L646.12,172.00L643.02,180.00ZM644.28,172.00L647.38,165.00L649.22,165.00L646.12,172.00ZM647.38,165.00L650.38,158.00L652.22,158.00L649.22,165.00ZM650.38,158.00L653.08,150.00L654.92,150.00L652.22,158.00ZM653.08,150.00L658.08,139.00L659.92,139.00L654.92,150.00ZM658.08,139.00L661.78,130.00L663.62,130.00L659.92,139.00ZM661.78,130.00L666.38,123.60L668.22,123.60L663.62,130.00ZM666.38,123.60L670.88,116.80L672.72,116.80L668.22,123.60ZM670.88,116.80L675.08,110.60L676.92,110.60L672.72,116.80ZM675.08,110.60L678.28,106.40L680.12,106.40L676.92,110.60ZM679.20,105.48L690.00,102.38L690.00,104.22L679.20,107.33ZM690.00,102.38L700.00,99.38L700.00,101.22L690.00,104.22ZM700.00,99.38L709.30,98.08L709.30,99.92L700.00,101.22ZM709.30,98.08L720.00,99.58L720.00,101.42L709.30,99.92ZM720.00,99.58L730.00,100.88L730.00,102.72L720.00,101.42ZM730.00,100.88L735.00,101.08L735.00,102.92L730.00,102.72ZM735.00,101.08L745.00,102.58L745.00,104.42L735.00,102.92ZM745.00,102.58L755.00,104.08L755.00,105.92L745.00,104.42ZM755.00,104.08L760.00,104.67L760.00,106.52L755.00,105.92ZM760.00,104.67L768.40,105.78L768.40,107.62L760.00,106.52ZM768.40,105.78L780.00,108.38L780.00,110.22L768.40,107.62ZM780.00,108.38L790.00,111.08L790.00,112.92L780.00,110.22ZM790.00,111.08L800.00,113.08L800.00,114.92L790.00,112.92ZM800.00,113.08L810.00,115.78L810.00,117.62L800.00,114.92ZM810.00,115.78L820.00,119.98L820.00,121.83L810.00,117.62ZM820.00,119.98L828.00,120.38L828.00,122.22L820.00,121.83ZM828.00,120.38L836.00,122.38L836.00,124.22L828.00,122.22ZM836.00,122.38L845.00,125.78L845.00,127.62L836.00,124.22ZM845.00,125.78L854.70,127.08L854.70,128.93L845.00,127.62ZM854.70,127.08L864.00,129.07L864.00,130.93L854.70,128.93ZM864.00,129.07L870.00,130.07L870.00,131.93L864.00,130.93ZM870.00,130.07L874.70,128.38L874.70,130.23L870.00,131.93ZM874.70,128.38L880.00,127.77L880.00,129.62L874.70,130.23ZM880.00,127.77L885.00,127.77L885.00,129.62L880.00,129.62ZM885.00,127.77L891.70,128.77L891.70,130.62L885.00,129.62ZM891.70,128.77L901.00,134.07L901.00,135.93L891.70,130.62ZM901.00,134.07L911.70,136.77L911.70,138.62L901.00,135.93ZM911.70,136.77L925.00,139.07L925.00,140.93L911.70,138.62ZM925.00,139.07L935.70,140.77L935.70,142.62L925.00,140.93ZM935.70,140.77L942.50,142.38L942.50,144.23L935.70,142.62ZM478.11,257.21h1.57v1.57h-1.57ZM533.76,257.21h1.57v1.57h-1.57ZM536.06,352.21h1.57v1.57h-1.57ZM574.41,352.21h1.57v1.57h-1.57ZM577.21,334.71h1.57v1.57h-1.57ZM578.41,341.76h1.57v1.57h-1.57ZM579.71,348.16h1.57v1.57h-1.57ZM582.01,356.23h1.57v1.57h-1.57ZM583.51,360.71h1.57v1.57h-1.57ZM585.51,364.04h1.57v1.57h-1.57ZM587.41,365.70h1.57v1.57h-1.57ZM589.61,366.21h1.57v1.57h-1.57ZM591.47,365.91h1.57v1.57h-1.57ZM592.81,364.91h1.57v1.57h-1.57ZM594.05,362.71h1.57v1.57h-1.57ZM595.60,358.61h1.57v1.57h-1.57ZM597.04,352.51h1.57v1.57h-1.57ZM598.69,343.41h1.57v1.57h-1.57ZM601.41,321.21h1.57v1.57h-1.57ZM606.51,289.21h1.57v1.57h-1.57ZM613.71,261.51h1.57v1.57h-1.57ZM624.51,229.21h1.57v1.57h-1.57ZM633.81,199.61h1.57v1.57h-1.57ZM638.91,187.21h1.57v1.57h-1.57ZM641.31,179.21h1.57v1.57h-1.57ZM644.41,171.21h1.57v1.57h-1.57ZM647.51,164.21h1.57v1.57h-1.57ZM650.51,157.21h1.57v1.57h-1.57ZM653.21,149.21h1.57v1.57h-1.57ZM658.21,138.21h1.57v1.57h-1.57ZM661.91,129.21h1.57v1.57h-1.57ZM666.51,122.81h1.57v1.57h-1.57ZM671.01,116.01h1.57v1.57h-1.57ZM675.21,109.81h1.57v1.57h-1.57ZM678.41,105.61h1.57v1.57h-1.57ZM689.21,102.51h1.57v1.57h-1.57ZM699.21,99.51h1.57v1.57h-1.57ZM708.51,98.21h1.57v1.57h-1.57ZM719.21,99.71h1.57v1.57h-1.57ZM729.21,101.01h1.57v1.57h-1.57ZM734.21,101.21h1.57v1.57h-1.57ZM744.21,102.71h1.57v1.57h-1.57ZM754.21,104.21h1.57v1.57h-1.57ZM759.21,104.81h1.57v1.57h-1.57ZM767.61,105.91h1.57v1.57h-1.57ZM779.21,108.51h1.57v1.57h-1.57ZM789.21,111.21h1.57v1.57h-1.57ZM799.21,113.21h1.57v1.57h-1.57ZM809.21,115.91h1.57v1.57h-1.57ZM819.21,120.11h1.57v1.57h-1.57ZM827.21,120.51h1.57v1.57h-1.57ZM835.21,122.51h1.57v1.57h-1.57ZM844.21,125.91h1.57v1.57h-1.57ZM853.91,127.21h1.57v1.57h-1.57ZM863.21,129.21h1.57v1.57h-1.57ZM869.21,130.21h1.57v1.57h-1.57ZM873.91,128.51h1.57v1.57h-1.57ZM879.21,127.91h1.57v1.57h-1.57ZM884.21,127.91h1.57v1.57h-1.57ZM890.91,128.91h1.57v1.57h-1.57ZM900.21,134.21h1.57v1.57h-1.57ZM910.91,136.91h1.57v1.57h-1.57ZM924.21,139.21h1.57v1.57h-1.57ZM934.91,140.91h1.57v1.57h-1.57Z" fill="#ff0000" stroke="none"/>
<path d="M73.5,125.0 L128.7,125.0 L131.0,176.0 L186.6,176.0 L188.9,139.0 L244.6,139.0 L246.9,186.0 L302.5,186.0 L304.8,337.0 L360.4,337.0 L362.7,180.0 L418.4,180.0 L420.7,163.0 L476.3,163.0 L478.6,258.0 L534.2,258.0 L536.5,353.0 L575.2,353.0" stroke="#000000" stroke-width="2" stroke-linejoin="miter"/>
<path d="M574.00,352.07L575.20,352.07L575.20,353.93L574.00,353.93ZM574.28,353.00L577.08,337.50L578.92,337.50L576.12,353.00ZM577.08,337.50L578.28,343.00L580.12,343.00L578.92,337.50ZM578.28,343.00L579.58,348.00L581.42,348.00L580.12,343.00ZM579.58,348.00L581.88,354.30L583.72,354.30L581.42,348.00ZM581.88,354.30L583.38,357.80L585.22,357.80L583.72,354.30ZM583.38,357.80L585.38,360.40L587.22,360.40L585.22,357.80ZM586.30,359.47L588.20,360.77L588.20,362.62L586.30,361.32ZM588.20,360.77L590.40,361.18L590.40,363.03L588.20,362.62ZM590.40,361.18L592.20,360.88L592.20,362.73L590.40,363.03ZM592.20,360.88L593.50,359.88L593.50,361.73L592.20,362.73ZM592.58,360.80L593.78,358.60L595.62,358.60L594.42,360.80ZM593.78,358.60L595.28,354.50L597.12,354.50L595.62,358.60ZM595.28,354.50L596.68,348.40L598.52,348.40L597.12,354.50ZM596.68,348.40L598.28,339.30L600.12,339.30L598.52,348.40ZM598.28,339.30L601.28,322.00L603.12,322.00L600.12,339.30ZM601.28,322.00L607.78,290.00L609.62,290.00L603.12,322.00ZM607.78,290.00L614.38,262.30L616.22,262.30L609.62,290.00ZM614.38,262.30L623.08,230.00L624.92,230.00L616.22,262.30ZM623.08,230.00L631.18,200.40L633.02,200.40L624.92,230.00ZM631.18,200.40L634.58,188.00L636.42,188.00L633.02,200.40ZM634.58,188.00L637.38,180.00L639.22,180.00L636.42,188.00ZM637.38,180.00L641.08,172.00L642.92,172.00L639.22,180.00ZM641.08,172.00L644.88,165.00L646.72,165.00L642.92,172.00ZM644.88,165.00L648.38,158.00L650.22,158.00L646.72,165.00ZM648.38,158.00L651.08,150.00L652.92,150.00L650.22,158.00ZM651.08,150.00L655.08,139.00L656.92,139.00L652.92,150.00ZM655.08,139.00L659.58,130.00L661.42,130.00L656.92,139.00ZM659.58,130.00L662.68,121.40L664.52,121.40L661.42,130.00ZM662.68,121.40L665.48,115.90L667.32,115.90L664.52,121.40ZM665.48,115.90L668.88,110.80L670.72,110.80L667.32,115.90ZM669.80,109.88L672.50,107.67L672.50,109.52L669.80,111.72ZM672.50,107.67L675.00,106.88L675.00,108.72L672.50,109.52ZM675.00,106.88L680.00,107.58L680.00,109.42L675.00,108.72ZM680.00,107.58L684.50,110.38L684.50,112.22L680.00,109.42ZM684.50,110.38L691.70,116.67L691.70,118.52L684.50,112.22ZM691.70,116.67L700.00,120.38L700.00,122.22L691.70,118.52ZM700.00,120.38L713.30,124.38L713.30,126.22L700.00,122.22ZM713.30,124.38L720.00,126.08L720.00,127.92L713.30,126.22ZM720.00,126.08L730.00,129.07L730.00,130.93L720.00,127.92ZM730.00,129.07L735.00,130.07L735.00,131.93L730.00,130.93ZM735.00,130.07L746.70,133.77L746.70,135.62L735.00,131.93ZM746.70,133.77L755.00,134.38L755.00,136.23L746.70,135.62ZM755.00,134.38L760.00,134.77L760.00,136.62L755.00,136.23ZM760.00,134.77L768.40,135.77L768.40,137.62L760.00,136.62ZM768.40,135.77L780.00,137.77L780.00,139.62L768.40,137.62ZM780.00,137.77L790.00,139.77L790.00,141.62L780.00,139.62ZM790.00,139.77L800.00,141.07L800.00,142.93L790.00,141.62ZM800.00,141.07L810.00,142.77L810.00,144.62L800.00,142.93ZM810.00,142.77L820.00,144.57L820.00,146.43L810.00,144.62ZM820.00,144.57L830.70,146.07L830.70,147.93L820.00,146.43ZM830.70,146.07L840.00,147.07L840.00,148.93L830.70,147.93ZM840.00,147.07L850.00,147.38L850.00,149.23L840.00,148.93ZM850.00,147.38L860.00,148.07L860.00,149.93L850.00,149.23ZM860.00,148.07L865.30,147.07L865.30,148.93L860.00,149.93ZM865.30,147.07L873.30,145.07L873.30,146.93L865.30,148.93ZM873.30,145.07L880.00,144.07L880.00,145.93L873.30,146.93ZM880.00,144.07L885.00,144.77L885.00,146.62L880.00,145.93ZM885.00,144.77L893.00,146.77L893.00,148.62L885.00,146.62ZM893.00,146.77L905.00,149.07L905.00,150.93L893.00,148.62ZM905.00,149.07L918.30,151.07L918.30,152.93L905.00,150.93ZM918.30,151.07L931.70,152.77L931.70,154.62L918.30,152.93ZM931.70,152.77L942.50,154.07L942.50,155.93L931.70,154.62ZM574.41,352.21h1.57v1.57h-1.57ZM577.21,336.71h1.57v1.57h-1.57ZM578.41,342.21h1.57v1.57h-1.57ZM579.71,347.21h1.57v1.57h-1.57ZM582.01,353.51h1.57v1.57h-1.57ZM583.51,357.01h1.57v1.57h-1.57ZM585.51,359.61h1.57v1.57h-1.57ZM587.41,360.91h1.57v1.57h-1.57ZM589.61,361.31h1.57v1.57h-1.57ZM591.41,361.01h1.57v1.57h-1.57ZM592.71,360.01h1.57v1.57h-1.57ZM593.91,357.81h1.57v1.57h-1.57ZM595.41,353.71h1.57v1.57h-1.57ZM596.81,347.61h1.57v1.57h-1.57ZM598.41,338.51h1.57v1.57h-1.57ZM601.41,321.21h1.57v1.57h-1.57ZM607.91,289.21h1.57v1.57h-1.57ZM614.51,261.51h1.57v1.57h-1.57ZM623.21,229.21h1.57v1.57h-1.57ZM631.31,199.61h1.57v1.57h-1.57ZM634.71,187.21h1.57v1.57h-1.57ZM637.51,179.21h1.57v1.57h-1.57ZM641.21,171.21h1.57v1.57h-1.57ZM645.01,164.21h1.57v1.57h-1.57ZM648.51,157.21h1.57v1.57h-1.57ZM651.21,149.21h1.57v1.57h-1.57ZM655.21,138.21h1.57v1.57h-1.57ZM659.71,129.21h1.57v1.57h-1.57ZM662.81,120.61h1.57v1.57h-1.57ZM665.61,115.11h1.57v1.57h-1.57ZM669.01,110.01h1.57v1.57h-1.57ZM671.71,107.81h1.57v1.57h-1.57ZM674.21,107.01h1.57v1.57h-1.57ZM679.21,107.71h1.57v1.57h-1.57ZM683.71,110.51h1.57v1.57h-1.57ZM690.91,116.81h1.57v1.57h-1.57ZM699.21,120.51h1.57v1.57h-1.57ZM712.51,124.51h1.57v1.57h-1.57ZM719.21,126.21h1.57v1.57h-1.57ZM729.21,129.21h1.57v1.57h-1.57ZM734.21,130.21h1.57v1.57h-1.57ZM745.91,133.91h1.57v1.57h-1.57ZM754.21,134.51h1.57v1.57h-1.57ZM759.21,134.91h1.57v1.57h-1.57ZM767.61,135.91h1.57v1.57h-1.57ZM779.21,137.91h1.57v1.57h-1.57ZM789.21,139.91h1.57v1.57h-1.57ZM799.21,141.21h1.57v1.57h-1.57ZM809.21,142.91h1.57v1.57h-1.57ZM819.21,144.71h1.57v1.57h-1.57ZM829.91,146.21h1.57v1.57h-1.57ZM839.21,147.21h1.57v1.57h-1.57ZM849.21,147.51h1.57v1.57h-1.57ZM859.21,148.21h1.57v1.57h-1.57ZM864.51,147.21h1.57v1.57h-1.57ZM872.51,145.21h1.57v1.57h-1.57ZM879.21,144.21h1.57v1.57h-1.57ZM884.21,144.91h1.57v1.57h-1.57ZM892.21,146.91h1.57v1.57h-1.57ZM904.21,149.21h1.57v1.57h-1.57ZM917.51,151.21h1.57v1.57h-1.57ZM930.91,152.91h1.57v1.57h-1.57Z" fill="#000000" stroke="none"/>
</g>
<g id="grid" stroke="#909090" stroke-width="1" stroke-dasharray="2 2" fill="none"><line x1="189.5" y1="45.0" x2="189.5" y2="387.0"/><line x1="305.5" y1="45.0" x2="305.5" y2="387.0"/><line x1="421.5" y1="45.0" x2="421.5" y2="387.0"/><line x1="536.5" y1="45.0" x2="536.5" y2="387.0"/><line x1="652.5" y1="45.0" x2="652.5" y2="387.0"/><line x1="768.5" y1="45.0" x2="768.5" y2="387.0"/><line x1="884.5" y1="45.0" x2="884.5" y2="387.0"/><line x1="73.0" y1="385.5" x2="943.0" y2="385.5"/><line x1="73.0" y1="324.5" x2="943.0" y2="324.5"/><line x1="73.0" y1="262.5" x2="943.0" y2="262.5"/><line x1="73.0" y1="200.5" x2="943.0" y2="200.5"/><line x1="73.0" y1="138.5" x2="943.0" y2="138.5"/><line x1="73.0" y1="76.5" x2="943.0" y2="76.5"/></g>
<line x1="579.5" y1="45.5" x2="579.5" y2="386.5" stroke="#ff0000" stroke-width="1"/>
<path d="M73.5,387v-5M73.5,45v5M189.5,387v-5M189.5,45v5M305.5,387v-5M305.5,45v5M421.5,387v-5M421.5,45v5M536.5,387v-5M536.5,45v5M652.5,387v-5M652.5,45v5M768.5,387v-5M768.5,45v5M884.5,387v-5M884.5,45v5M73,386.5h5M943,386.5h-5M73,324.5h5M943,324.5h-5M73,262.5h5M943,262.5h-5M73,200.5h5M943,200.5h-5M73,138.5h5M943,138.5h-5M73,76.5h5M943,76.5h-5" stroke="#000" stroke-width="1" fill="none"/>
<rect x="73.5" y="45.5" width="869" height="341" fill="none" stroke="#000" stroke-width="1"/>
<text x="506.5" y="27.1" text-anchor="middle" xml:space="preserve">Virtaama / Discharge  65 Pelkosenniemi</text>
<text x="64" y="389.9" text-anchor="end">180</text>
<text x="64" y="327.9" text-anchor="end">200</text>
<text x="64" y="265.9" text-anchor="end">220</text>
<text x="64" y="203.9" text-anchor="end">240</text>
<text x="64" y="141.9" text-anchor="end">260</text>
<text x="64" y="79.9" text-anchor="end">280</text>
<text x="72.7" y="404.7" text-anchor="middle">10.12</text>
<text x="188.7" y="404.7" text-anchor="middle">12.12</text>
<text x="304.7" y="404.7" text-anchor="middle">14.12</text>
<text x="420.7" y="404.7" text-anchor="middle">16.12</text>
<text x="535.7" y="404.7" text-anchor="middle">18.12</text>
<text x="651.7" y="404.7" text-anchor="middle">20.12</text>
<text x="767.7" y="404.7" text-anchor="middle">22.12</text>
<text x="883.7" y="404.7" text-anchor="middle">24.12</text>
<text x="507.5" y="427.3" text-anchor="middle">Päivä / Date</text>
<text x="9" y="446.3">2025-12-18 18:23:02 EET</text>
<text id="ylab" transform="translate(17,215.2) rotate(-90)" text-anchor="middle" letter-spacing="0.068" xml:space="preserve">Virtaama / Discharge (m<tspan font-size="13.4" dy="-6.6">3</tspan><tspan dy="6.6">/s)  65 Pelkosenniemi</tspan></text>
<text x="1032" y="57.0" text-anchor="end">meps</text>
<rect x="1040" y="49.0" width="42" height="8" fill="#c8c8ff"/>
<text x="1032" y="72.0" text-anchor="end">70%-30%</text>
<rect x="1040" y="64.0" width="42" height="8" fill="#9c9cdc"/>
<text x="1032" y="87.0" text-anchor="end">meps-med</text>
<line x1="1041" y1="83.0" x2="1082" y2="83.0" stroke="#4444ee" stroke-width="2"/>
<text x="1032" y="102.0" text-anchor="end">min-max</text>
<rect x="1040" y="94.0" width="42" height="8" fill="#ffff66"/>
<text x="1032" y="117.0" text-anchor="end">95%-5%</text>
<rect x="1040" y="109.0" width="42" height="8" fill="#aaff66"/>
<text x="1032" y="132.0" text-anchor="end">75%-25%</text>
<rect x="1040" y="124.0" width="42" height="8" fill="#00ff00"/>
<text x="1032" y="147.0" text-anchor="end">mediaani</text>
<line x1="1041" y1="143.0" x2="1082" y2="143.0" stroke="#007800" stroke-width="2"/>
<text x="1032" y="162.0" text-anchor="end">yksit.h.</text>
<rect x="1059" y="156.0" width="4" height="4" fill="#007800"/>
<text x="1032" y="177.0" text-anchor="end">Har.</text>
<line x1="1041" y1="173.0" x2="1082" y2="173.0" stroke="#ff8000" stroke-width="2"/>
<text x="1032" y="192.0" text-anchor="end">IL</text>
<line x1="1041" y1="188.0" x2="1082" y2="188.0" stroke="#ff0000" stroke-width="2"/>
<text x="1032" y="207.0" text-anchor="end">Det.</text>
<line x1="1041" y1="203.0" x2="1082" y2="203.0" stroke="#000000" stroke-width="2"/>
</svg>
</body>
</html>
